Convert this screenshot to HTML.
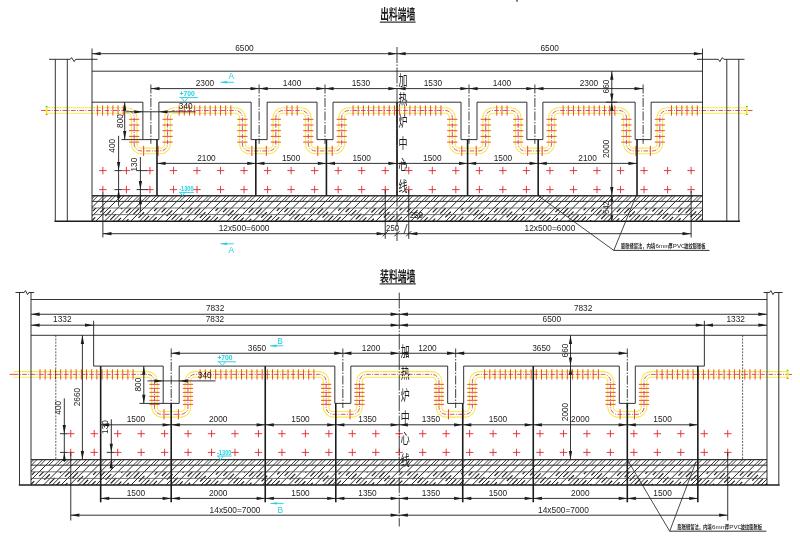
<!DOCTYPE html>
<html><head><meta charset="utf-8"><title>drawing</title>
<style>html,body{margin:0;padding:0;background:#fff;overflow:hidden}svg{display:block;will-change:transform;font-family:'Liberation Sans', sans-serif}</style>
</head><body>
<svg width="800" height="547" viewBox="0 0 800 547">
<rect width="800" height="547" fill="#fff"/>
<filter id="idf" x="0" y="0" width="800" height="547" filterUnits="userSpaceOnUse" color-interpolation-filters="sRGB"><feColorMatrix type="matrix" values="1 0 0 0 0 0 1 0 0 0 0 0 1 0 0 0 0 0 1 0"/></filter>
<g filter="url(#idf)">
<path d="M45.8 110.5L127.18 110.5A7.0 7.0 0 0 1 134.18 117.5L134.18 143.9A7.0 7.0 0 0 0 141.18 150.9L160.58 150.9A7.0 7.0 0 0 0 167.58 143.9L167.58 117.5A7.0 7.0 0 0 1 174.58 110.5L235.41 110.5A7.0 7.0 0 0 1 242.41 117.5L242.41 143.9A7.0 7.0 0 0 0 249.41 150.9L268.81 150.9A7.0 7.0 0 0 0 275.81 143.9L275.81 117.5A7.0 7.0 0 0 1 282.81 110.5L301.3 110.5A7.0 7.0 0 0 1 308.3 117.5L308.3 143.9A7.0 7.0 0 0 0 315.3 150.9L334.7 150.9A7.0 7.0 0 0 0 341.7 143.9L341.7 117.5A7.0 7.0 0 0 1 348.7 110.5L445.3 110.5A7.0 7.0 0 0 1 452.3 117.5L452.3 143.9A7.0 7.0 0 0 0 459.3 150.9L478.7 150.9A7.0 7.0 0 0 0 485.7 143.9L485.7 117.5A7.0 7.0 0 0 1 492.7 110.5L511.19 110.5A7.0 7.0 0 0 1 518.19 117.5L518.19 143.9A7.0 7.0 0 0 0 525.19 150.9L544.59 150.9A7.0 7.0 0 0 0 551.59 143.9L551.59 117.5A7.0 7.0 0 0 1 558.59 110.5L619.42 110.5A7.0 7.0 0 0 1 626.42 117.5L626.42 143.9A7.0 7.0 0 0 0 633.42 150.9L652.82 150.9A7.0 7.0 0 0 0 659.82 143.9L659.82 117.5A7.0 7.0 0 0 1 666.82 110.5L747.6 110.5" fill="none" stroke="#f3ec45" stroke-width="6.7"/>
<path d="M45.8 110.5L127.18 110.5A7.0 7.0 0 0 1 134.18 117.5L134.18 143.9A7.0 7.0 0 0 0 141.18 150.9L160.58 150.9A7.0 7.0 0 0 0 167.58 143.9L167.58 117.5A7.0 7.0 0 0 1 174.58 110.5L235.41 110.5A7.0 7.0 0 0 1 242.41 117.5L242.41 143.9A7.0 7.0 0 0 0 249.41 150.9L268.81 150.9A7.0 7.0 0 0 0 275.81 143.9L275.81 117.5A7.0 7.0 0 0 1 282.81 110.5L301.3 110.5A7.0 7.0 0 0 1 308.3 117.5L308.3 143.9A7.0 7.0 0 0 0 315.3 150.9L334.7 150.9A7.0 7.0 0 0 0 341.7 143.9L341.7 117.5A7.0 7.0 0 0 1 348.7 110.5L445.3 110.5A7.0 7.0 0 0 1 452.3 117.5L452.3 143.9A7.0 7.0 0 0 0 459.3 150.9L478.7 150.9A7.0 7.0 0 0 0 485.7 143.9L485.7 117.5A7.0 7.0 0 0 1 492.7 110.5L511.19 110.5A7.0 7.0 0 0 1 518.19 117.5L518.19 143.9A7.0 7.0 0 0 0 525.19 150.9L544.59 150.9A7.0 7.0 0 0 0 551.59 143.9L551.59 117.5A7.0 7.0 0 0 1 558.59 110.5L619.42 110.5A7.0 7.0 0 0 1 626.42 117.5L626.42 143.9A7.0 7.0 0 0 0 633.42 150.9L652.82 150.9A7.0 7.0 0 0 0 659.82 143.9L659.82 117.5A7.0 7.0 0 0 1 666.82 110.5L747.6 110.5" fill="none" stroke="#fff" stroke-width="4.5"/>
<line x1="139.28" y1="119.3" x2="129.08" y2="119.3" stroke="#e8452c" stroke-width="0.95"/>
<line x1="139.28" y1="125" x2="129.08" y2="125" stroke="#e8452c" stroke-width="0.95"/>
<line x1="139.28" y1="130.7" x2="129.08" y2="130.7" stroke="#e8452c" stroke-width="0.95"/>
<line x1="139.28" y1="136.4" x2="129.08" y2="136.4" stroke="#e8452c" stroke-width="0.95"/>
<line x1="139.28" y1="142.1" x2="129.08" y2="142.1" stroke="#e8452c" stroke-width="0.95"/>
<line x1="143.63" y1="145.8" x2="143.63" y2="156" stroke="#e8452c" stroke-width="0.95"/>
<line x1="158.13" y1="145.8" x2="158.13" y2="156" stroke="#e8452c" stroke-width="0.95"/>
<line x1="162.48" y1="142.1" x2="172.68" y2="142.1" stroke="#e8452c" stroke-width="0.95"/>
<line x1="162.48" y1="136.4" x2="172.68" y2="136.4" stroke="#e8452c" stroke-width="0.95"/>
<line x1="162.48" y1="130.7" x2="172.68" y2="130.7" stroke="#e8452c" stroke-width="0.95"/>
<line x1="162.48" y1="125" x2="172.68" y2="125" stroke="#e8452c" stroke-width="0.95"/>
<line x1="162.48" y1="119.3" x2="172.68" y2="119.3" stroke="#e8452c" stroke-width="0.95"/>
<line x1="179.15" y1="105.4" x2="179.15" y2="115.6" stroke="#e8452c" stroke-width="0.95"/>
<line x1="184.32" y1="105.4" x2="184.32" y2="115.6" stroke="#e8452c" stroke-width="0.95"/>
<line x1="189.49" y1="105.4" x2="189.49" y2="115.6" stroke="#e8452c" stroke-width="0.95"/>
<line x1="194.66" y1="105.4" x2="194.66" y2="115.6" stroke="#e8452c" stroke-width="0.95"/>
<line x1="199.83" y1="105.4" x2="199.83" y2="115.6" stroke="#e8452c" stroke-width="0.95"/>
<line x1="205" y1="105.4" x2="205" y2="115.6" stroke="#e8452c" stroke-width="0.95"/>
<line x1="210.17" y1="105.4" x2="210.17" y2="115.6" stroke="#e8452c" stroke-width="0.95"/>
<line x1="215.34" y1="105.4" x2="215.34" y2="115.6" stroke="#e8452c" stroke-width="0.95"/>
<line x1="220.51" y1="105.4" x2="220.51" y2="115.6" stroke="#e8452c" stroke-width="0.95"/>
<line x1="225.68" y1="105.4" x2="225.68" y2="115.6" stroke="#e8452c" stroke-width="0.95"/>
<line x1="230.85" y1="105.4" x2="230.85" y2="115.6" stroke="#e8452c" stroke-width="0.95"/>
<line x1="247.51" y1="119.3" x2="237.31" y2="119.3" stroke="#e8452c" stroke-width="0.95"/>
<line x1="247.51" y1="125" x2="237.31" y2="125" stroke="#e8452c" stroke-width="0.95"/>
<line x1="247.51" y1="130.7" x2="237.31" y2="130.7" stroke="#e8452c" stroke-width="0.95"/>
<line x1="247.51" y1="136.4" x2="237.31" y2="136.4" stroke="#e8452c" stroke-width="0.95"/>
<line x1="247.51" y1="142.1" x2="237.31" y2="142.1" stroke="#e8452c" stroke-width="0.95"/>
<line x1="251.86" y1="145.8" x2="251.86" y2="156" stroke="#e8452c" stroke-width="0.95"/>
<line x1="266.36" y1="145.8" x2="266.36" y2="156" stroke="#e8452c" stroke-width="0.95"/>
<line x1="270.71" y1="142.1" x2="280.91" y2="142.1" stroke="#e8452c" stroke-width="0.95"/>
<line x1="270.71" y1="136.4" x2="280.91" y2="136.4" stroke="#e8452c" stroke-width="0.95"/>
<line x1="270.71" y1="130.7" x2="280.91" y2="130.7" stroke="#e8452c" stroke-width="0.95"/>
<line x1="270.71" y1="125" x2="280.91" y2="125" stroke="#e8452c" stroke-width="0.95"/>
<line x1="270.71" y1="119.3" x2="280.91" y2="119.3" stroke="#e8452c" stroke-width="0.95"/>
<line x1="286.89" y1="105.4" x2="286.89" y2="115.6" stroke="#e8452c" stroke-width="0.95"/>
<line x1="292.06" y1="105.4" x2="292.06" y2="115.6" stroke="#e8452c" stroke-width="0.95"/>
<line x1="297.23" y1="105.4" x2="297.23" y2="115.6" stroke="#e8452c" stroke-width="0.95"/>
<line x1="313.4" y1="119.3" x2="303.2" y2="119.3" stroke="#e8452c" stroke-width="0.95"/>
<line x1="313.4" y1="125" x2="303.2" y2="125" stroke="#e8452c" stroke-width="0.95"/>
<line x1="313.4" y1="130.7" x2="303.2" y2="130.7" stroke="#e8452c" stroke-width="0.95"/>
<line x1="313.4" y1="136.4" x2="303.2" y2="136.4" stroke="#e8452c" stroke-width="0.95"/>
<line x1="313.4" y1="142.1" x2="303.2" y2="142.1" stroke="#e8452c" stroke-width="0.95"/>
<line x1="317.75" y1="145.8" x2="317.75" y2="156" stroke="#e8452c" stroke-width="0.95"/>
<line x1="332.25" y1="145.8" x2="332.25" y2="156" stroke="#e8452c" stroke-width="0.95"/>
<line x1="336.6" y1="142.1" x2="346.8" y2="142.1" stroke="#e8452c" stroke-width="0.95"/>
<line x1="336.6" y1="136.4" x2="346.8" y2="136.4" stroke="#e8452c" stroke-width="0.95"/>
<line x1="336.6" y1="130.7" x2="346.8" y2="130.7" stroke="#e8452c" stroke-width="0.95"/>
<line x1="336.6" y1="125" x2="346.8" y2="125" stroke="#e8452c" stroke-width="0.95"/>
<line x1="336.6" y1="119.3" x2="346.8" y2="119.3" stroke="#e8452c" stroke-width="0.95"/>
<line x1="353.06" y1="105.4" x2="353.06" y2="115.6" stroke="#e8452c" stroke-width="0.95"/>
<line x1="358.23" y1="105.4" x2="358.23" y2="115.6" stroke="#e8452c" stroke-width="0.95"/>
<line x1="363.39" y1="105.4" x2="363.39" y2="115.6" stroke="#e8452c" stroke-width="0.95"/>
<line x1="368.56" y1="105.4" x2="368.56" y2="115.6" stroke="#e8452c" stroke-width="0.95"/>
<line x1="373.74" y1="105.4" x2="373.74" y2="115.6" stroke="#e8452c" stroke-width="0.95"/>
<line x1="378.9" y1="105.4" x2="378.9" y2="115.6" stroke="#e8452c" stroke-width="0.95"/>
<line x1="384.07" y1="105.4" x2="384.07" y2="115.6" stroke="#e8452c" stroke-width="0.95"/>
<line x1="389.25" y1="105.4" x2="389.25" y2="115.6" stroke="#e8452c" stroke-width="0.95"/>
<line x1="394.42" y1="105.4" x2="394.42" y2="115.6" stroke="#e8452c" stroke-width="0.95"/>
<line x1="399.58" y1="105.4" x2="399.58" y2="115.6" stroke="#e8452c" stroke-width="0.95"/>
<line x1="404.75" y1="105.4" x2="404.75" y2="115.6" stroke="#e8452c" stroke-width="0.95"/>
<line x1="409.93" y1="105.4" x2="409.93" y2="115.6" stroke="#e8452c" stroke-width="0.95"/>
<line x1="415.1" y1="105.4" x2="415.1" y2="115.6" stroke="#e8452c" stroke-width="0.95"/>
<line x1="420.26" y1="105.4" x2="420.26" y2="115.6" stroke="#e8452c" stroke-width="0.95"/>
<line x1="425.44" y1="105.4" x2="425.44" y2="115.6" stroke="#e8452c" stroke-width="0.95"/>
<line x1="430.61" y1="105.4" x2="430.61" y2="115.6" stroke="#e8452c" stroke-width="0.95"/>
<line x1="435.77" y1="105.4" x2="435.77" y2="115.6" stroke="#e8452c" stroke-width="0.95"/>
<line x1="440.94" y1="105.4" x2="440.94" y2="115.6" stroke="#e8452c" stroke-width="0.95"/>
<line x1="457.4" y1="119.3" x2="447.2" y2="119.3" stroke="#e8452c" stroke-width="0.95"/>
<line x1="457.4" y1="125" x2="447.2" y2="125" stroke="#e8452c" stroke-width="0.95"/>
<line x1="457.4" y1="130.7" x2="447.2" y2="130.7" stroke="#e8452c" stroke-width="0.95"/>
<line x1="457.4" y1="136.4" x2="447.2" y2="136.4" stroke="#e8452c" stroke-width="0.95"/>
<line x1="457.4" y1="142.1" x2="447.2" y2="142.1" stroke="#e8452c" stroke-width="0.95"/>
<line x1="461.75" y1="145.8" x2="461.75" y2="156" stroke="#e8452c" stroke-width="0.95"/>
<line x1="476.25" y1="145.8" x2="476.25" y2="156" stroke="#e8452c" stroke-width="0.95"/>
<line x1="480.6" y1="142.1" x2="490.8" y2="142.1" stroke="#e8452c" stroke-width="0.95"/>
<line x1="480.6" y1="136.4" x2="490.8" y2="136.4" stroke="#e8452c" stroke-width="0.95"/>
<line x1="480.6" y1="130.7" x2="490.8" y2="130.7" stroke="#e8452c" stroke-width="0.95"/>
<line x1="480.6" y1="125" x2="490.8" y2="125" stroke="#e8452c" stroke-width="0.95"/>
<line x1="480.6" y1="119.3" x2="490.8" y2="119.3" stroke="#e8452c" stroke-width="0.95"/>
<line x1="496.77" y1="105.4" x2="496.77" y2="115.6" stroke="#e8452c" stroke-width="0.95"/>
<line x1="501.94" y1="105.4" x2="501.94" y2="115.6" stroke="#e8452c" stroke-width="0.95"/>
<line x1="507.11" y1="105.4" x2="507.11" y2="115.6" stroke="#e8452c" stroke-width="0.95"/>
<line x1="523.29" y1="119.3" x2="513.09" y2="119.3" stroke="#e8452c" stroke-width="0.95"/>
<line x1="523.29" y1="125" x2="513.09" y2="125" stroke="#e8452c" stroke-width="0.95"/>
<line x1="523.29" y1="130.7" x2="513.09" y2="130.7" stroke="#e8452c" stroke-width="0.95"/>
<line x1="523.29" y1="136.4" x2="513.09" y2="136.4" stroke="#e8452c" stroke-width="0.95"/>
<line x1="523.29" y1="142.1" x2="513.09" y2="142.1" stroke="#e8452c" stroke-width="0.95"/>
<line x1="527.64" y1="145.8" x2="527.64" y2="156" stroke="#e8452c" stroke-width="0.95"/>
<line x1="542.14" y1="145.8" x2="542.14" y2="156" stroke="#e8452c" stroke-width="0.95"/>
<line x1="546.49" y1="142.1" x2="556.69" y2="142.1" stroke="#e8452c" stroke-width="0.95"/>
<line x1="546.49" y1="136.4" x2="556.69" y2="136.4" stroke="#e8452c" stroke-width="0.95"/>
<line x1="546.49" y1="130.7" x2="556.69" y2="130.7" stroke="#e8452c" stroke-width="0.95"/>
<line x1="546.49" y1="125" x2="556.69" y2="125" stroke="#e8452c" stroke-width="0.95"/>
<line x1="546.49" y1="119.3" x2="556.69" y2="119.3" stroke="#e8452c" stroke-width="0.95"/>
<line x1="563.15" y1="105.4" x2="563.15" y2="115.6" stroke="#e8452c" stroke-width="0.95"/>
<line x1="568.32" y1="105.4" x2="568.32" y2="115.6" stroke="#e8452c" stroke-width="0.95"/>
<line x1="573.49" y1="105.4" x2="573.49" y2="115.6" stroke="#e8452c" stroke-width="0.95"/>
<line x1="578.66" y1="105.4" x2="578.66" y2="115.6" stroke="#e8452c" stroke-width="0.95"/>
<line x1="583.83" y1="105.4" x2="583.83" y2="115.6" stroke="#e8452c" stroke-width="0.95"/>
<line x1="589" y1="105.4" x2="589" y2="115.6" stroke="#e8452c" stroke-width="0.95"/>
<line x1="594.17" y1="105.4" x2="594.17" y2="115.6" stroke="#e8452c" stroke-width="0.95"/>
<line x1="599.34" y1="105.4" x2="599.34" y2="115.6" stroke="#e8452c" stroke-width="0.95"/>
<line x1="604.51" y1="105.4" x2="604.51" y2="115.6" stroke="#e8452c" stroke-width="0.95"/>
<line x1="609.68" y1="105.4" x2="609.68" y2="115.6" stroke="#e8452c" stroke-width="0.95"/>
<line x1="614.85" y1="105.4" x2="614.85" y2="115.6" stroke="#e8452c" stroke-width="0.95"/>
<line x1="631.52" y1="119.3" x2="621.32" y2="119.3" stroke="#e8452c" stroke-width="0.95"/>
<line x1="631.52" y1="125" x2="621.32" y2="125" stroke="#e8452c" stroke-width="0.95"/>
<line x1="631.52" y1="130.7" x2="621.32" y2="130.7" stroke="#e8452c" stroke-width="0.95"/>
<line x1="631.52" y1="136.4" x2="621.32" y2="136.4" stroke="#e8452c" stroke-width="0.95"/>
<line x1="631.52" y1="142.1" x2="621.32" y2="142.1" stroke="#e8452c" stroke-width="0.95"/>
<line x1="635.87" y1="145.8" x2="635.87" y2="156" stroke="#e8452c" stroke-width="0.95"/>
<line x1="650.37" y1="145.8" x2="650.37" y2="156" stroke="#e8452c" stroke-width="0.95"/>
<line x1="654.72" y1="142.1" x2="664.92" y2="142.1" stroke="#e8452c" stroke-width="0.95"/>
<line x1="654.72" y1="136.4" x2="664.92" y2="136.4" stroke="#e8452c" stroke-width="0.95"/>
<line x1="654.72" y1="130.7" x2="664.92" y2="130.7" stroke="#e8452c" stroke-width="0.95"/>
<line x1="654.72" y1="125" x2="664.92" y2="125" stroke="#e8452c" stroke-width="0.95"/>
<line x1="654.72" y1="119.3" x2="664.92" y2="119.3" stroke="#e8452c" stroke-width="0.95"/>
<path d="M45.8 110.5L127.18 110.5A7.0 7.0 0 0 1 134.18 117.5L134.18 143.9A7.0 7.0 0 0 0 141.18 150.9L160.58 150.9A7.0 7.0 0 0 0 167.58 143.9L167.58 117.5A7.0 7.0 0 0 1 174.58 110.5L235.41 110.5A7.0 7.0 0 0 1 242.41 117.5L242.41 143.9A7.0 7.0 0 0 0 249.41 150.9L268.81 150.9A7.0 7.0 0 0 0 275.81 143.9L275.81 117.5A7.0 7.0 0 0 1 282.81 110.5L301.3 110.5A7.0 7.0 0 0 1 308.3 117.5L308.3 143.9A7.0 7.0 0 0 0 315.3 150.9L334.7 150.9A7.0 7.0 0 0 0 341.7 143.9L341.7 117.5A7.0 7.0 0 0 1 348.7 110.5L445.3 110.5A7.0 7.0 0 0 1 452.3 117.5L452.3 143.9A7.0 7.0 0 0 0 459.3 150.9L478.7 150.9A7.0 7.0 0 0 0 485.7 143.9L485.7 117.5A7.0 7.0 0 0 1 492.7 110.5L511.19 110.5A7.0 7.0 0 0 1 518.19 117.5L518.19 143.9A7.0 7.0 0 0 0 525.19 150.9L544.59 150.9A7.0 7.0 0 0 0 551.59 143.9L551.59 117.5A7.0 7.0 0 0 1 558.59 110.5L619.42 110.5A7.0 7.0 0 0 1 626.42 117.5L626.42 143.9A7.0 7.0 0 0 0 633.42 150.9L652.82 150.9A7.0 7.0 0 0 0 659.82 143.9L659.82 117.5A7.0 7.0 0 0 1 666.82 110.5L747.6 110.5" fill="none" stroke="#d42a35" stroke-width="0.8" stroke-dasharray="4.6 1.4 1 1.4"/>
<line x1="97.4" y1="105.4" x2="97.4" y2="115.6" stroke="#e8452c" stroke-width="0.95"/>
<line x1="102.57" y1="105.4" x2="102.57" y2="115.6" stroke="#e8452c" stroke-width="0.95"/>
<line x1="107.74" y1="105.4" x2="107.74" y2="115.6" stroke="#e8452c" stroke-width="0.95"/>
<line x1="112.91" y1="105.4" x2="112.91" y2="115.6" stroke="#e8452c" stroke-width="0.95"/>
<line x1="118.08" y1="105.4" x2="118.08" y2="115.6" stroke="#e8452c" stroke-width="0.95"/>
<line x1="123.25" y1="105.4" x2="123.25" y2="115.6" stroke="#e8452c" stroke-width="0.95"/>
<line x1="671.5" y1="105.4" x2="671.5" y2="115.6" stroke="#e8452c" stroke-width="0.95"/>
<line x1="676.67" y1="105.4" x2="676.67" y2="115.6" stroke="#e8452c" stroke-width="0.95"/>
<line x1="681.84" y1="105.4" x2="681.84" y2="115.6" stroke="#e8452c" stroke-width="0.95"/>
<line x1="687.01" y1="105.4" x2="687.01" y2="115.6" stroke="#e8452c" stroke-width="0.95"/>
<line x1="692.18" y1="105.4" x2="692.18" y2="115.6" stroke="#e8452c" stroke-width="0.95"/>
<line x1="697.35" y1="105.4" x2="697.35" y2="115.6" stroke="#e8452c" stroke-width="0.95"/>
<line x1="41" y1="110.5" x2="45.8" y2="110.5" stroke="#e3262a" stroke-width="0.8"/>
<line x1="747.6" y1="110.5" x2="752.5" y2="110.5" stroke="#e3262a" stroke-width="0.8"/>
<line x1="46.6" y1="106.9" x2="46.6" y2="114.1" stroke="#f3ec45" stroke-width="1.8"/>
<line x1="46.6" y1="105.9" x2="46.6" y2="107.1" stroke="#35c43a" stroke-width="1.6"/>
<line x1="46.6" y1="113.9" x2="46.6" y2="115.1" stroke="#c8762a" stroke-width="1.6"/>
<line x1="746.8" y1="106.9" x2="746.8" y2="114.1" stroke="#f3ec45" stroke-width="1.8"/>
<line x1="746.8" y1="105.9" x2="746.8" y2="107.1" stroke="#35c43a" stroke-width="1.6"/>
<line x1="746.8" y1="113.9" x2="746.8" y2="115.1" stroke="#c8762a" stroke-width="1.6"/>
<path d="M381.54 170.6H388.94M385.24 166.9V174.3" stroke="#e3262a" stroke-width="0.9" fill="none"/>
<path d="M381.54 189.6H388.94M385.24 185.9V193.3" stroke="#e3262a" stroke-width="0.9" fill="none"/>
<path d="M358 170.6H365.4M361.7 166.9V174.3" stroke="#e3262a" stroke-width="0.9" fill="none"/>
<path d="M358 189.6H365.4M361.7 185.9V193.3" stroke="#e3262a" stroke-width="0.9" fill="none"/>
<path d="M334.48 170.6H341.88M338.18 166.9V174.3" stroke="#e3262a" stroke-width="0.9" fill="none"/>
<path d="M334.48 189.6H341.88M338.18 185.9V193.3" stroke="#e3262a" stroke-width="0.9" fill="none"/>
<path d="M310.94 170.6H318.34M314.64 166.9V174.3" stroke="#e3262a" stroke-width="0.9" fill="none"/>
<path d="M310.94 189.6H318.34M314.64 185.9V193.3" stroke="#e3262a" stroke-width="0.9" fill="none"/>
<path d="M287.42 170.6H294.81M291.12 166.9V174.3" stroke="#e3262a" stroke-width="0.9" fill="none"/>
<path d="M287.42 189.6H294.81M291.12 185.9V193.3" stroke="#e3262a" stroke-width="0.9" fill="none"/>
<path d="M263.89 170.6H271.29M267.59 166.9V174.3" stroke="#e3262a" stroke-width="0.9" fill="none"/>
<path d="M263.89 189.6H271.29M267.59 185.9V193.3" stroke="#e3262a" stroke-width="0.9" fill="none"/>
<path d="M240.36 170.6H247.75M244.06 166.9V174.3" stroke="#e3262a" stroke-width="0.9" fill="none"/>
<path d="M240.36 189.6H247.75M244.06 185.9V193.3" stroke="#e3262a" stroke-width="0.9" fill="none"/>
<path d="M216.83 170.6H224.22M220.53 166.9V174.3" stroke="#e3262a" stroke-width="0.9" fill="none"/>
<path d="M216.83 189.6H224.22M220.53 185.9V193.3" stroke="#e3262a" stroke-width="0.9" fill="none"/>
<path d="M193.3 170.6H200.7M197 166.9V174.3" stroke="#e3262a" stroke-width="0.9" fill="none"/>
<path d="M193.3 189.6H200.7M197 185.9V193.3" stroke="#e3262a" stroke-width="0.9" fill="none"/>
<path d="M169.77 170.6H177.17M173.47 166.9V174.3" stroke="#e3262a" stroke-width="0.9" fill="none"/>
<path d="M169.77 189.6H177.17M173.47 185.9V193.3" stroke="#e3262a" stroke-width="0.9" fill="none"/>
<path d="M146.24 170.6H153.64M149.94 166.9V174.3" stroke="#e3262a" stroke-width="0.9" fill="none"/>
<path d="M146.24 189.6H153.64M149.94 185.9V193.3" stroke="#e3262a" stroke-width="0.9" fill="none"/>
<path d="M122.71 170.6H130.11M126.41 166.9V174.3" stroke="#e3262a" stroke-width="0.9" fill="none"/>
<path d="M122.71 189.6H130.11M126.41 185.9V193.3" stroke="#e3262a" stroke-width="0.9" fill="none"/>
<path d="M99.17 170.6H106.58M102.88 166.9V174.3" stroke="#e3262a" stroke-width="0.9" fill="none"/>
<path d="M99.17 189.6H106.58M102.88 185.9V193.3" stroke="#e3262a" stroke-width="0.9" fill="none"/>
<path d="M405.06 170.6H412.46M408.76 166.9V174.3" stroke="#e3262a" stroke-width="0.9" fill="none"/>
<path d="M405.06 189.6H412.46M408.76 185.9V193.3" stroke="#e3262a" stroke-width="0.9" fill="none"/>
<path d="M428.6 170.6H436M432.3 166.9V174.3" stroke="#e3262a" stroke-width="0.9" fill="none"/>
<path d="M428.6 189.6H436M432.3 185.9V193.3" stroke="#e3262a" stroke-width="0.9" fill="none"/>
<path d="M452.12 170.6H459.52M455.82 166.9V174.3" stroke="#e3262a" stroke-width="0.9" fill="none"/>
<path d="M452.12 189.6H459.52M455.82 185.9V193.3" stroke="#e3262a" stroke-width="0.9" fill="none"/>
<path d="M475.66 170.6H483.06M479.36 166.9V174.3" stroke="#e3262a" stroke-width="0.9" fill="none"/>
<path d="M475.66 189.6H483.06M479.36 185.9V193.3" stroke="#e3262a" stroke-width="0.9" fill="none"/>
<path d="M499.19 170.6H506.58M502.88 166.9V174.3" stroke="#e3262a" stroke-width="0.9" fill="none"/>
<path d="M499.19 189.6H506.58M502.88 185.9V193.3" stroke="#e3262a" stroke-width="0.9" fill="none"/>
<path d="M522.71 170.6H530.12M526.41 166.9V174.3" stroke="#e3262a" stroke-width="0.9" fill="none"/>
<path d="M522.71 189.6H530.12M526.41 185.9V193.3" stroke="#e3262a" stroke-width="0.9" fill="none"/>
<path d="M546.24 170.6H553.64M549.94 166.9V174.3" stroke="#e3262a" stroke-width="0.9" fill="none"/>
<path d="M546.24 189.6H553.64M549.94 185.9V193.3" stroke="#e3262a" stroke-width="0.9" fill="none"/>
<path d="M569.77 170.6H577.18M573.48 166.9V174.3" stroke="#e3262a" stroke-width="0.9" fill="none"/>
<path d="M569.77 189.6H577.18M573.48 185.9V193.3" stroke="#e3262a" stroke-width="0.9" fill="none"/>
<path d="M593.3 170.6H600.71M597 166.9V174.3" stroke="#e3262a" stroke-width="0.9" fill="none"/>
<path d="M593.3 189.6H600.71M597 185.9V193.3" stroke="#e3262a" stroke-width="0.9" fill="none"/>
<path d="M616.83 170.6H624.24M620.53 166.9V174.3" stroke="#e3262a" stroke-width="0.9" fill="none"/>
<path d="M616.83 189.6H624.24M620.53 185.9V193.3" stroke="#e3262a" stroke-width="0.9" fill="none"/>
<path d="M640.36 170.6H647.76M644.06 166.9V174.3" stroke="#e3262a" stroke-width="0.9" fill="none"/>
<path d="M640.36 189.6H647.76M644.06 185.9V193.3" stroke="#e3262a" stroke-width="0.9" fill="none"/>
<path d="M663.89 170.6H671.3M667.6 166.9V174.3" stroke="#e3262a" stroke-width="0.9" fill="none"/>
<path d="M663.89 189.6H671.3M667.6 185.9V193.3" stroke="#e3262a" stroke-width="0.9" fill="none"/>
<path d="M687.42 170.6H694.83M691.12 166.9V174.3" stroke="#e3262a" stroke-width="0.9" fill="none"/>
<path d="M687.42 189.6H694.83M691.12 185.9V193.3" stroke="#e3262a" stroke-width="0.9" fill="none"/>
<clipPath id="hta"><rect x="92" y="195.7" width="610.5" height="5.7"/></clipPath>
<clipPath id="htb"><rect x="92" y="201.4" width="610.5" height="19.8"/></clipPath>
<clipPath id="htc"><rect x="92" y="208" width="610.5" height="13.2"/></clipPath>
<path d="M52 221.2L77.5 195.7M55.1 221.2L80.6 195.7M60.75 221.2L86.25 195.7M63.85 221.2L89.35 195.7M69.5 221.2L95 195.7M72.6 221.2L98.1 195.7M78.25 221.2L103.75 195.7M81.35 221.2L106.85 195.7M87 221.2L112.5 195.7M90.1 221.2L115.6 195.7M95.75 221.2L121.25 195.7M98.85 221.2L124.35 195.7M104.5 221.2L130 195.7M107.6 221.2L133.1 195.7M113.25 221.2L138.75 195.7M116.35 221.2L141.85 195.7M122 221.2L147.5 195.7M125.1 221.2L150.6 195.7M130.75 221.2L156.25 195.7M133.85 221.2L159.35 195.7M139.5 221.2L165 195.7M142.6 221.2L168.1 195.7M148.25 221.2L173.75 195.7M151.35 221.2L176.85 195.7M157 221.2L182.5 195.7M160.1 221.2L185.6 195.7M165.75 221.2L191.25 195.7M168.85 221.2L194.35 195.7M174.5 221.2L200 195.7M177.6 221.2L203.1 195.7M183.25 221.2L208.75 195.7M186.35 221.2L211.85 195.7M192 221.2L217.5 195.7M195.1 221.2L220.6 195.7M200.75 221.2L226.25 195.7M203.85 221.2L229.35 195.7M209.5 221.2L235 195.7M212.6 221.2L238.1 195.7M218.25 221.2L243.75 195.7M221.35 221.2L246.85 195.7M227 221.2L252.5 195.7M230.1 221.2L255.6 195.7M235.75 221.2L261.25 195.7M238.85 221.2L264.35 195.7M244.5 221.2L270 195.7M247.6 221.2L273.1 195.7M253.25 221.2L278.75 195.7M256.35 221.2L281.85 195.7M262 221.2L287.5 195.7M265.1 221.2L290.6 195.7M270.75 221.2L296.25 195.7M273.85 221.2L299.35 195.7M279.5 221.2L305 195.7M282.6 221.2L308.1 195.7M288.25 221.2L313.75 195.7M291.35 221.2L316.85 195.7M297 221.2L322.5 195.7M300.1 221.2L325.6 195.7M305.75 221.2L331.25 195.7M308.85 221.2L334.35 195.7M314.5 221.2L340 195.7M317.6 221.2L343.1 195.7M323.25 221.2L348.75 195.7M326.35 221.2L351.85 195.7M332 221.2L357.5 195.7M335.1 221.2L360.6 195.7M340.75 221.2L366.25 195.7M343.85 221.2L369.35 195.7M349.5 221.2L375 195.7M352.6 221.2L378.1 195.7M358.25 221.2L383.75 195.7M361.35 221.2L386.85 195.7M367 221.2L392.5 195.7M370.1 221.2L395.6 195.7M375.75 221.2L401.25 195.7M378.85 221.2L404.35 195.7M384.5 221.2L410 195.7M387.6 221.2L413.1 195.7M393.25 221.2L418.75 195.7M396.35 221.2L421.85 195.7M402 221.2L427.5 195.7M405.1 221.2L430.6 195.7M410.75 221.2L436.25 195.7M413.85 221.2L439.35 195.7M419.5 221.2L445 195.7M422.6 221.2L448.1 195.7M428.25 221.2L453.75 195.7M431.35 221.2L456.85 195.7M437 221.2L462.5 195.7M440.1 221.2L465.6 195.7M445.75 221.2L471.25 195.7M448.85 221.2L474.35 195.7M454.5 221.2L480 195.7M457.6 221.2L483.1 195.7M463.25 221.2L488.75 195.7M466.35 221.2L491.85 195.7M472 221.2L497.5 195.7M475.1 221.2L500.6 195.7M480.75 221.2L506.25 195.7M483.85 221.2L509.35 195.7M489.5 221.2L515 195.7M492.6 221.2L518.1 195.7M498.25 221.2L523.75 195.7M501.35 221.2L526.85 195.7M507 221.2L532.5 195.7M510.1 221.2L535.6 195.7M515.75 221.2L541.25 195.7M518.85 221.2L544.35 195.7M524.5 221.2L550 195.7M527.6 221.2L553.1 195.7M533.25 221.2L558.75 195.7M536.35 221.2L561.85 195.7M542 221.2L567.5 195.7M545.1 221.2L570.6 195.7M550.75 221.2L576.25 195.7M553.85 221.2L579.35 195.7M559.5 221.2L585 195.7M562.6 221.2L588.1 195.7M568.25 221.2L593.75 195.7M571.35 221.2L596.85 195.7M577 221.2L602.5 195.7M580.1 221.2L605.6 195.7M585.75 221.2L611.25 195.7M588.85 221.2L614.35 195.7M594.5 221.2L620 195.7M597.6 221.2L623.1 195.7M603.25 221.2L628.75 195.7M606.35 221.2L631.85 195.7M612 221.2L637.5 195.7M615.1 221.2L640.6 195.7M620.75 221.2L646.25 195.7M623.85 221.2L649.35 195.7M629.5 221.2L655 195.7M632.6 221.2L658.1 195.7M638.25 221.2L663.75 195.7M641.35 221.2L666.85 195.7M647 221.2L672.5 195.7M650.1 221.2L675.6 195.7M655.75 221.2L681.25 195.7M658.85 221.2L684.35 195.7M664.5 221.2L690 195.7M667.6 221.2L693.1 195.7M673.25 221.2L698.75 195.7M676.35 221.2L701.85 195.7M682 221.2L707.5 195.7M685.1 221.2L710.6 195.7M690.75 221.2L716.25 195.7M693.85 221.2L719.35 195.7M699.5 221.2L725 195.7M702.6 221.2L728.1 195.7" stroke="#1c1c1c" stroke-width="0.85" fill="none" clip-path="url(#hta)"/>
<path d="M52 221.2L77.5 195.7M60.75 221.2L86.25 195.7M69.5 221.2L95 195.7M78.25 221.2L103.75 195.7M87 221.2L112.5 195.7M95.75 221.2L121.25 195.7M104.5 221.2L130 195.7M113.25 221.2L138.75 195.7M122 221.2L147.5 195.7M130.75 221.2L156.25 195.7M139.5 221.2L165 195.7M148.25 221.2L173.75 195.7M157 221.2L182.5 195.7M165.75 221.2L191.25 195.7M174.5 221.2L200 195.7M183.25 221.2L208.75 195.7M192 221.2L217.5 195.7M200.75 221.2L226.25 195.7M209.5 221.2L235 195.7M218.25 221.2L243.75 195.7M227 221.2L252.5 195.7M235.75 221.2L261.25 195.7M244.5 221.2L270 195.7M253.25 221.2L278.75 195.7M262 221.2L287.5 195.7M270.75 221.2L296.25 195.7M279.5 221.2L305 195.7M288.25 221.2L313.75 195.7M297 221.2L322.5 195.7M305.75 221.2L331.25 195.7M314.5 221.2L340 195.7M323.25 221.2L348.75 195.7M332 221.2L357.5 195.7M340.75 221.2L366.25 195.7M349.5 221.2L375 195.7M358.25 221.2L383.75 195.7M367 221.2L392.5 195.7M375.75 221.2L401.25 195.7M384.5 221.2L410 195.7M393.25 221.2L418.75 195.7M402 221.2L427.5 195.7M410.75 221.2L436.25 195.7M419.5 221.2L445 195.7M428.25 221.2L453.75 195.7M437 221.2L462.5 195.7M445.75 221.2L471.25 195.7M454.5 221.2L480 195.7M463.25 221.2L488.75 195.7M472 221.2L497.5 195.7M480.75 221.2L506.25 195.7M489.5 221.2L515 195.7M498.25 221.2L523.75 195.7M507 221.2L532.5 195.7M515.75 221.2L541.25 195.7M524.5 221.2L550 195.7M533.25 221.2L558.75 195.7M542 221.2L567.5 195.7M550.75 221.2L576.25 195.7M559.5 221.2L585 195.7M568.25 221.2L593.75 195.7M577 221.2L602.5 195.7M585.75 221.2L611.25 195.7M594.5 221.2L620 195.7M603.25 221.2L628.75 195.7M612 221.2L637.5 195.7M620.75 221.2L646.25 195.7M629.5 221.2L655 195.7M638.25 221.2L663.75 195.7M647 221.2L672.5 195.7M655.75 221.2L681.25 195.7M664.5 221.2L690 195.7M673.25 221.2L698.75 195.7M682 221.2L707.5 195.7M690.75 221.2L716.25 195.7M699.5 221.2L725 195.7" stroke="#1c1c1c" stroke-width="0.95" fill="none" clip-path="url(#htb)"/>
<path d="M56.4 221.2L81.9 195.7M61.45 224.9L90.65 195.7M66.5 228.6L99.4 195.7M71.55 232.3L108.15 195.7M89.6 223L116.9 195.7M94.65 226.7L125.65 195.7M99.7 230.4L134.4 195.7M104.75 234.1L143.15 195.7M122.8 224.8L151.9 195.7M127.85 228.5L160.65 195.7M132.9 232.2L169.4 195.7M150.95 222.9L178.15 195.7M156 226.6L186.9 195.7M161.05 230.3L195.65 195.7M166.1 234L204.4 195.7M184.15 224.7L213.15 195.7M189.2 228.4L221.9 195.7M194.25 232.1L230.65 195.7M212.3 222.8L239.4 195.7M217.35 226.5L248.15 195.7M222.4 230.2L256.9 195.7M227.45 233.9L265.65 195.7M245.5 224.6L274.4 195.7M250.55 228.3L283.15 195.7M255.6 232L291.9 195.7M273.65 222.7L300.65 195.7M278.7 226.4L309.4 195.7M283.75 230.1L318.15 195.7M288.8 233.8L326.9 195.7M306.85 224.5L335.65 195.7M311.9 228.2L344.4 195.7M316.95 231.9L353.15 195.7M335 222.6L361.9 195.7M340.05 226.3L370.65 195.7M345.1 230L379.4 195.7M350.15 233.7L388.15 195.7M368.2 224.4L396.9 195.7M373.25 228.1L405.65 195.7M378.3 231.8L414.4 195.7M396.35 222.5L423.15 195.7M401.4 226.2L431.9 195.7M406.45 229.9L440.65 195.7M411.5 233.6L449.4 195.7M429.55 224.3L458.15 195.7M434.6 228L466.9 195.7M439.65 231.7L475.65 195.7M457.7 222.4L484.4 195.7M462.75 226.1L493.15 195.7M467.8 229.8L501.9 195.7M472.85 233.5L510.65 195.7M490.9 224.2L519.4 195.7M495.95 227.9L528.15 195.7M501 231.6L536.9 195.7M519.05 222.3L545.65 195.7M524.1 226L554.4 195.7M529.15 229.7L563.15 195.7M534.2 233.4L571.9 195.7M552.25 224.1L580.65 195.7M557.3 227.8L589.4 195.7M562.35 231.5L598.15 195.7M580.4 222.2L606.9 195.7M585.45 225.9L615.65 195.7M590.5 229.6L624.4 195.7M595.55 233.3L633.15 195.7M613.6 224L641.9 195.7M618.65 227.7L650.65 195.7M623.7 231.4L659.4 195.7M641.75 222.1L668.15 195.7M646.8 225.8L676.9 195.7M651.85 229.5L685.65 195.7M656.9 233.2L694.4 195.7M674.95 223.9L703.15 195.7M680 227.6L711.9 195.7M685.05 231.3L720.65 195.7M703.1 222L729.4 195.7" stroke="#1c1c1c" stroke-width="1.15" fill="none" stroke-dasharray="8 7" clip-path="url(#htc)"/>
<line x1="92" y1="201.4" x2="702.5" y2="201.4" stroke="#1c1c1c" stroke-width="0.9"/>
<line x1="92" y1="208" x2="702.5" y2="208" stroke="#555" stroke-width="0.8"/>
<line x1="92" y1="214.6" x2="702.5" y2="214.6" stroke="#555" stroke-width="0.8"/>
<line x1="92" y1="195.7" x2="702.5" y2="195.7" stroke="#333" stroke-width="1.4"/>
<line x1="55.3" y1="59.3" x2="55.3" y2="221.2" stroke="#1c1c1c" stroke-width="0.9"/>
<line x1="67.3" y1="59.3" x2="67.3" y2="221.2" stroke="#1c1c1c" stroke-width="0.9"/>
<line x1="726.8" y1="59.3" x2="726.8" y2="221.2" stroke="#1c1c1c" stroke-width="0.9"/>
<line x1="738.8" y1="59.3" x2="738.8" y2="221.2" stroke="#1c1c1c" stroke-width="0.9"/>
<line x1="92" y1="48.5" x2="92" y2="221.2" stroke="#1c1c1c" stroke-width="0.9"/>
<line x1="702.5" y1="48.5" x2="702.5" y2="221.2" stroke="#1c1c1c" stroke-width="0.9"/>
<polyline points="49,59.3 70.2,59.3 71.6,57.6 74.2,61.6 75.6,59.3 97.5,59.3" fill="none" stroke="#1c1c1c" stroke-width="0.9"/>
<polyline points="697,59.3 718.4,59.3 719.8,61.6 722.4,57.6 723.8,59.3 744.5,59.3" fill="none" stroke="#1c1c1c" stroke-width="0.9"/>
<line x1="54.5" y1="221.2" x2="740" y2="221.2" stroke="#1c1c1c" stroke-width="1.6"/>
<line x1="92" y1="71.2" x2="702.5" y2="71.2" stroke="#1c1c1c" stroke-width="0.9"/>
<polyline points="92,102.2 142.88,102.2 142.88,139.6 158.88,139.6 158.88,102.2 251.11,102.2 251.11,139.6 267.11,139.6 267.11,102.2 317,102.2 317,139.6 333,139.6 333,102.2 461,102.2 461,139.6 477,139.6 477,102.2 526.89,102.2 526.89,139.6 542.89,139.6 542.89,102.2 635.12,102.2 635.12,139.6 651.12,139.6 651.12,102.2 702.5,102.2" fill="none" stroke="#1c1c1c" stroke-width="0.9"/>
<line x1="150.88" y1="84.5" x2="150.88" y2="143.8" stroke="#1c1c1c" stroke-width="0.85" stroke-dasharray="9 1.5 1.5 1.5"/>
<line x1="259.11" y1="84.5" x2="259.11" y2="143.8" stroke="#1c1c1c" stroke-width="0.85" stroke-dasharray="9 1.5 1.5 1.5"/>
<line x1="325" y1="84.5" x2="325" y2="143.8" stroke="#1c1c1c" stroke-width="0.85" stroke-dasharray="9 1.5 1.5 1.5"/>
<line x1="469" y1="84.5" x2="469" y2="143.8" stroke="#1c1c1c" stroke-width="0.85" stroke-dasharray="9 1.5 1.5 1.5"/>
<line x1="534.89" y1="84.5" x2="534.89" y2="143.8" stroke="#1c1c1c" stroke-width="0.85" stroke-dasharray="9 1.5 1.5 1.5"/>
<line x1="643.12" y1="84.5" x2="643.12" y2="143.8" stroke="#1c1c1c" stroke-width="0.85" stroke-dasharray="9 1.5 1.5 1.5"/>
<line x1="156.99" y1="139.6" x2="156.99" y2="195.7" stroke="#1c1c1c" stroke-width="1.6"/>
<line x1="255.82" y1="139.6" x2="255.82" y2="195.7" stroke="#1c1c1c" stroke-width="1.6"/>
<line x1="326.41" y1="139.6" x2="326.41" y2="195.7" stroke="#1c1c1c" stroke-width="1.6"/>
<line x1="467.59" y1="139.6" x2="467.59" y2="195.7" stroke="#1c1c1c" stroke-width="1.6"/>
<line x1="538.18" y1="139.6" x2="538.18" y2="195.7" stroke="#1c1c1c" stroke-width="1.6"/>
<line x1="637.01" y1="139.6" x2="637.01" y2="195.7" stroke="#1c1c1c" stroke-width="1.6"/>
<line x1="397" y1="47" x2="397" y2="241" stroke="#1c1c1c" stroke-width="0.85" stroke-dasharray="16 1.5 1.5 1.5"/>
<line x1="397" y1="102.2" x2="397" y2="195.7" stroke="#1c1c1c" stroke-width="1.6"/>
<line x1="92" y1="53.7" x2="702.5" y2="53.7" stroke="#1c1c1c" stroke-width="0.9"/>
<polygon points="92,53.7 100.6,52.05 100.6,55.35" fill="#1c1c1c"/>
<polygon points="397,53.7 388.4,52.05 388.4,55.35" fill="#1c1c1c"/>
<polygon points="397,53.7 405.6,52.05 405.6,55.35" fill="#1c1c1c"/>
<polygon points="702.5,53.7 693.9,52.05 693.9,55.35" fill="#1c1c1c"/>
<text x="244.5" y="51.1" font-size="9.4" text-anchor="middle" fill="#1c1c1c" font-weight="normal" textLength="18.48" lengthAdjust="spacingAndGlyphs">6500</text>
<text x="549.75" y="51.1" font-size="9.4" text-anchor="middle" fill="#1c1c1c" font-weight="normal" textLength="18.48" lengthAdjust="spacingAndGlyphs">6500</text>
<line x1="150.88" y1="88.6" x2="643.12" y2="88.6" stroke="#1c1c1c" stroke-width="0.9"/>
<polygon points="150.88,88.6 159.48,86.95 159.48,90.25" fill="#1c1c1c"/>
<polygon points="259.11,88.6 250.51,86.95 250.51,90.25" fill="#1c1c1c"/>
<polygon points="259.11,88.6 267.71,86.95 267.71,90.25" fill="#1c1c1c"/>
<polygon points="325,88.6 316.4,86.95 316.4,90.25" fill="#1c1c1c"/>
<polygon points="325,88.6 333.6,86.95 333.6,90.25" fill="#1c1c1c"/>
<polygon points="397,88.6 388.4,86.95 388.4,90.25" fill="#1c1c1c"/>
<polygon points="397,88.6 405.6,86.95 405.6,90.25" fill="#1c1c1c"/>
<polygon points="469,88.6 460.4,86.95 460.4,90.25" fill="#1c1c1c"/>
<polygon points="469,88.6 477.6,86.95 477.6,90.25" fill="#1c1c1c"/>
<polygon points="534.89,88.6 526.29,86.95 526.29,90.25" fill="#1c1c1c"/>
<polygon points="534.89,88.6 543.49,86.95 543.49,90.25" fill="#1c1c1c"/>
<polygon points="643.12,88.6 634.52,86.95 634.52,90.25" fill="#1c1c1c"/>
<text x="205" y="85.9" font-size="9.4" text-anchor="middle" fill="#1c1c1c" font-weight="normal" textLength="18.48" lengthAdjust="spacingAndGlyphs">2300</text>
<text x="292.06" y="85.9" font-size="9.4" text-anchor="middle" fill="#1c1c1c" font-weight="normal" textLength="18.48" lengthAdjust="spacingAndGlyphs">1400</text>
<text x="361" y="85.9" font-size="9.4" text-anchor="middle" fill="#1c1c1c" font-weight="normal" textLength="18.48" lengthAdjust="spacingAndGlyphs">1530</text>
<text x="433" y="85.9" font-size="9.4" text-anchor="middle" fill="#1c1c1c" font-weight="normal" textLength="18.48" lengthAdjust="spacingAndGlyphs">1530</text>
<text x="501.94" y="85.9" font-size="9.4" text-anchor="middle" fill="#1c1c1c" font-weight="normal" textLength="18.48" lengthAdjust="spacingAndGlyphs">1400</text>
<text x="589" y="85.9" font-size="9.4" text-anchor="middle" fill="#1c1c1c" font-weight="normal" textLength="18.48" lengthAdjust="spacingAndGlyphs">2300</text>
<line x1="156.99" y1="163.4" x2="637.01" y2="163.4" stroke="#1c1c1c" stroke-width="0.9"/>
<polygon points="156.99,163.4 165.59,161.75 165.59,165.05" fill="#1c1c1c"/>
<polygon points="255.82,163.4 247.22,161.75 247.22,165.05" fill="#1c1c1c"/>
<polygon points="255.82,163.4 264.42,161.75 264.42,165.05" fill="#1c1c1c"/>
<polygon points="326.41,163.4 317.81,161.75 317.81,165.05" fill="#1c1c1c"/>
<polygon points="326.41,163.4 335.01,161.75 335.01,165.05" fill="#1c1c1c"/>
<polygon points="397,163.4 388.4,161.75 388.4,165.05" fill="#1c1c1c"/>
<polygon points="397,163.4 405.6,161.75 405.6,165.05" fill="#1c1c1c"/>
<polygon points="467.59,163.4 458.99,161.75 458.99,165.05" fill="#1c1c1c"/>
<polygon points="467.59,163.4 476.19,161.75 476.19,165.05" fill="#1c1c1c"/>
<polygon points="538.18,163.4 529.58,161.75 529.58,165.05" fill="#1c1c1c"/>
<polygon points="538.18,163.4 546.78,161.75 546.78,165.05" fill="#1c1c1c"/>
<polygon points="637.01,163.4 628.41,161.75 628.41,165.05" fill="#1c1c1c"/>
<text x="206.41" y="160.7" font-size="9.4" text-anchor="middle" fill="#1c1c1c" font-weight="normal" textLength="18.48" lengthAdjust="spacingAndGlyphs">2100</text>
<text x="291.12" y="160.7" font-size="9.4" text-anchor="middle" fill="#1c1c1c" font-weight="normal" textLength="18.48" lengthAdjust="spacingAndGlyphs">1500</text>
<text x="361.7" y="160.7" font-size="9.4" text-anchor="middle" fill="#1c1c1c" font-weight="normal" textLength="18.48" lengthAdjust="spacingAndGlyphs">1500</text>
<text x="432.3" y="160.7" font-size="9.4" text-anchor="middle" fill="#1c1c1c" font-weight="normal" textLength="18.48" lengthAdjust="spacingAndGlyphs">1500</text>
<text x="502.89" y="160.7" font-size="9.4" text-anchor="middle" fill="#1c1c1c" font-weight="normal" textLength="18.48" lengthAdjust="spacingAndGlyphs">1500</text>
<text x="587.59" y="160.7" font-size="9.4" text-anchor="middle" fill="#1c1c1c" font-weight="normal" textLength="18.48" lengthAdjust="spacingAndGlyphs">2100</text>
<line x1="102.88" y1="233.7" x2="691.12" y2="233.7" stroke="#1c1c1c" stroke-width="0.9"/>
<line x1="102.88" y1="192.5" x2="102.88" y2="237.5" stroke="#1c1c1c" stroke-width="0.9"/>
<line x1="691.12" y1="191" x2="691.12" y2="237.5" stroke="#1c1c1c" stroke-width="0.9"/>
<line x1="385.24" y1="190" x2="385.24" y2="238.8" stroke="#1c1c1c" stroke-width="0.9"/>
<line x1="408.76" y1="190" x2="408.76" y2="238.8" stroke="#1c1c1c" stroke-width="0.9"/>
<polygon points="102.88,233.7 111.47,232.05 111.47,235.35" fill="#1c1c1c"/>
<polygon points="385.24,233.7 376.63,232.05 376.63,235.35" fill="#1c1c1c"/>
<polygon points="408.76,233.7 417.37,232.05 417.37,235.35" fill="#1c1c1c"/>
<polygon points="691.12,233.7 682.52,232.05 682.52,235.35" fill="#1c1c1c"/>
<line x1="382.63" y1="236.3" x2="387.84" y2="231.1" stroke="#1c1c1c" stroke-width="0.9"/>
<line x1="394.4" y1="236.3" x2="399.6" y2="231.1" stroke="#1c1c1c" stroke-width="0.9"/>
<line x1="406.16" y1="236.3" x2="411.37" y2="231.1" stroke="#1c1c1c" stroke-width="0.9"/>
<text x="244.06" y="231.2" font-size="9.4" text-anchor="middle" fill="#1c1c1c" font-weight="normal" textLength="50.82" lengthAdjust="spacingAndGlyphs">12x500=6000</text>
<text x="549.94" y="231.2" font-size="9.4" text-anchor="middle" fill="#1c1c1c" font-weight="normal" textLength="50.82" lengthAdjust="spacingAndGlyphs">12x500=6000</text>
<text x="392.6" y="230.6" font-size="8.8" text-anchor="middle" fill="#1c1c1c" font-weight="normal" textLength="12.98" lengthAdjust="spacingAndGlyphs">250</text>
<text x="416.3" y="218.3" font-size="8.8" text-anchor="middle" fill="#1c1c1c" font-weight="normal" textLength="12.98" lengthAdjust="spacingAndGlyphs">250</text>
<line x1="407.2" y1="224" x2="404" y2="233.7" stroke="#1c1c1c" stroke-width="0.8"/>
<line x1="124.7" y1="102.2" x2="124.7" y2="139.6" stroke="#1c1c1c" stroke-width="0.9"/>
<polygon points="124.7,102.2 123.05,110.8 126.35,110.8" fill="#1c1c1c"/>
<polygon points="124.7,139.6 123.05,131 126.35,131" fill="#1c1c1c"/>
<line x1="121.5" y1="139.6" x2="142.88" y2="139.6" stroke="#1c1c1c" stroke-width="0.9"/>
<text x="122.6" y="121" font-size="9.4" text-anchor="middle" fill="#1c1c1c" textLength="13.86" lengthAdjust="spacingAndGlyphs" transform="rotate(-90 122.6 121)">800</text>
<line x1="125.5" y1="111.8" x2="142.88" y2="111.8" stroke="#1c1c1c" stroke-width="0.9"/>
<line x1="158.88" y1="111.8" x2="195.5" y2="111.8" stroke="#1c1c1c" stroke-width="0.9"/>
<polygon points="142.88,111.8 134.28,110.15 134.28,113.45" fill="#1c1c1c"/>
<polygon points="158.88,111.8 167.48,110.15 167.48,113.45" fill="#1c1c1c"/>
<line x1="142.88" y1="111.8" x2="158.88" y2="111.8" stroke="#1c1c1c" stroke-width="0.9"/>
<text x="185.8" y="108.6" font-size="9.4" text-anchor="middle" fill="#1c1c1c" font-weight="normal" textLength="13.86" lengthAdjust="spacingAndGlyphs">340</text>
<line x1="118.6" y1="135.8" x2="118.6" y2="205.8" stroke="#1c1c1c" stroke-width="0.9"/>
<polygon points="118.6,170.6 116.95,162 120.25,162" fill="#1c1c1c"/>
<polygon points="118.6,189.6 116.95,198.2 120.25,198.2" fill="#1c1c1c"/>
<line x1="114.5" y1="170.6" x2="122.4" y2="170.6" stroke="#1c1c1c" stroke-width="0.9"/>
<line x1="114.5" y1="189.6" x2="122.4" y2="189.6" stroke="#1c1c1c" stroke-width="0.9"/>
<text x="115.4" y="145.8" font-size="9.4" text-anchor="middle" fill="#1c1c1c" textLength="13.86" lengthAdjust="spacingAndGlyphs" transform="rotate(-90 115.4 145.8)">400</text>
<line x1="140.4" y1="157" x2="140.4" y2="212.4" stroke="#1c1c1c" stroke-width="0.9"/>
<polygon points="140.4,189.6 138.75,181 142.05,181" fill="#1c1c1c"/>
<polygon points="140.4,195.7 138.75,204.3 142.05,204.3" fill="#1c1c1c"/>
<line x1="136.6" y1="189.6" x2="147.8" y2="189.6" stroke="#1c1c1c" stroke-width="0.9"/>
<line x1="136.6" y1="170.6" x2="147" y2="170.6" stroke="#1c1c1c" stroke-width="0.9"/>
<text x="137" y="164.6" font-size="9.4" text-anchor="middle" fill="#1c1c1c" textLength="13.86" lengthAdjust="spacingAndGlyphs" transform="rotate(-90 137 164.6)">130</text>
<line x1="611.8" y1="71.2" x2="611.8" y2="221.2" stroke="#1c1c1c" stroke-width="0.9"/>
<polygon points="611.8,71.2 610.15,79.8 613.45,79.8" fill="#1c1c1c"/>
<polygon points="611.8,102.2 610.15,93.6 613.45,93.6" fill="#1c1c1c"/>
<polygon points="611.8,102.2 610.15,110.8 613.45,110.8" fill="#1c1c1c"/>
<polygon points="611.8,195.7 610.15,187.1 613.45,187.1" fill="#1c1c1c"/>
<polygon points="611.8,195.7 610.15,201.7 613.45,201.7" fill="#1c1c1c"/>
<polygon points="611.8,221.2 610.15,215.2 613.45,215.2" fill="#1c1c1c"/>
<line x1="606" y1="102.2" x2="617" y2="102.2" stroke="#1c1c1c" stroke-width="0.9"/>
<text x="609.2" y="86.5" font-size="9.4" text-anchor="middle" fill="#1c1c1c" textLength="13.86" lengthAdjust="spacingAndGlyphs" transform="rotate(-90 609.2 86.5)">660</text>
<text x="609.2" y="148.8" font-size="9.4" text-anchor="middle" fill="#1c1c1c" textLength="18.48" lengthAdjust="spacingAndGlyphs" transform="rotate(-90 609.2 148.8)">2000</text>
<text x="609.2" y="207.5" font-size="8.4" text-anchor="middle" fill="#1c1c1c" textLength="12.39" lengthAdjust="spacingAndGlyphs" transform="rotate(-90 609.2 207.5)">542</text>
<line x1="538.18" y1="195.7" x2="613.8" y2="250.4" stroke="#1c1c1c" stroke-width="0.8"/>
<line x1="636" y1="196" x2="613.8" y2="250.4" stroke="#1c1c1c" stroke-width="0.8"/>
<line x1="613.8" y1="250.4" x2="709.5" y2="250.4" stroke="#1c1c1c" stroke-width="0.9"/>
<text x="179.4" y="95.7" font-size="7.8" fill="#22cfe0" font-weight="bold" textLength="15.4" lengthAdjust="spacingAndGlyphs">+700</text>
<line x1="179.4" y1="97.5" x2="198" y2="97.5" stroke="#22cfe0" stroke-width="0.9"/>
<path d="M181.3 97.5L184.55 101.9L187.8 97.5" stroke="#22cfe0" stroke-width="0.9" fill="none"/>
<text x="179.2" y="191.3" font-size="7.2" fill="#22cfe0" font-weight="bold" textLength="14.3" lengthAdjust="spacingAndGlyphs">-1300</text>
<line x1="179.2" y1="192.4" x2="194" y2="192.4" stroke="#22cfe0" stroke-width="0.9"/>
<path d="M180 192.4L182.4 195.7L184.8 192.4" stroke="#22cfe0" stroke-width="0.9" fill="none"/>
<line x1="220.6" y1="82.3" x2="234" y2="82.3" stroke="#22cfe0" stroke-width="0.9"/>
<polygon points="220.6,82.3 227.1,81.1 227.1,83.5" fill="#22cfe0"/>
<text x="231.3" y="79.4" font-size="9.4" text-anchor="middle" fill="#22cfe0" font-weight="normal" textLength="5.6" lengthAdjust="spacingAndGlyphs">A</text>
<line x1="220.5" y1="243.8" x2="233.8" y2="243.8" stroke="#22cfe0" stroke-width="0.9"/>
<polygon points="220.5,243.8 227,242.6 227,245" fill="#22cfe0"/>
<text x="231.4" y="252.8" font-size="9.4" text-anchor="middle" fill="#22cfe0" font-weight="normal" textLength="5.6" lengthAdjust="spacingAndGlyphs">A</text>
<path d="M13.8 374.4L147.5 374.4A7.0 7.0 0 0 1 154.5 381.4L154.5 407.3A7.0 7.0 0 0 0 161.5 414.3L180.9 414.3A7.0 7.0 0 0 0 187.9 407.3L187.9 381.4A7.0 7.0 0 0 1 194.9 374.4L319.13 374.4A7.0 7.0 0 0 1 326.13 381.4L326.13 407.3A7.0 7.0 0 0 0 333.13 414.3L352.53 414.3A7.0 7.0 0 0 0 359.53 407.3L359.53 381.4A7.0 7.0 0 0 1 366.53 374.4L431.97 374.4A7.0 7.0 0 0 1 438.97 381.4L438.97 407.3A7.0 7.0 0 0 0 445.97 414.3L465.37 414.3A7.0 7.0 0 0 0 472.37 407.3L472.37 381.4A7.0 7.0 0 0 1 479.37 374.4L603.6 374.4A7.0 7.0 0 0 1 610.6 381.4L610.6 407.3A7.0 7.0 0 0 0 617.6 414.3L637 414.3A7.0 7.0 0 0 0 644 407.3L644 381.4A7.0 7.0 0 0 1 651 374.4L788.2 374.4" fill="none" stroke="#f3ec45" stroke-width="6.7"/>
<path d="M13.8 374.4L147.5 374.4A7.0 7.0 0 0 1 154.5 381.4L154.5 407.3A7.0 7.0 0 0 0 161.5 414.3L180.9 414.3A7.0 7.0 0 0 0 187.9 407.3L187.9 381.4A7.0 7.0 0 0 1 194.9 374.4L319.13 374.4A7.0 7.0 0 0 1 326.13 381.4L326.13 407.3A7.0 7.0 0 0 0 333.13 414.3L352.53 414.3A7.0 7.0 0 0 0 359.53 407.3L359.53 381.4A7.0 7.0 0 0 1 366.53 374.4L431.97 374.4A7.0 7.0 0 0 1 438.97 381.4L438.97 407.3A7.0 7.0 0 0 0 445.97 414.3L465.37 414.3A7.0 7.0 0 0 0 472.37 407.3L472.37 381.4A7.0 7.0 0 0 1 479.37 374.4L603.6 374.4A7.0 7.0 0 0 1 610.6 381.4L610.6 407.3A7.0 7.0 0 0 0 617.6 414.3L637 414.3A7.0 7.0 0 0 0 644 407.3L644 381.4A7.0 7.0 0 0 1 651 374.4L788.2 374.4" fill="none" stroke="#fff" stroke-width="4.5"/>
<line x1="159.6" y1="384.35" x2="149.4" y2="384.35" stroke="#e8452c" stroke-width="0.95"/>
<line x1="159.6" y1="388.35" x2="149.4" y2="388.35" stroke="#e8452c" stroke-width="0.95"/>
<line x1="159.6" y1="392.35" x2="149.4" y2="392.35" stroke="#e8452c" stroke-width="0.95"/>
<line x1="159.6" y1="396.35" x2="149.4" y2="396.35" stroke="#e8452c" stroke-width="0.95"/>
<line x1="159.6" y1="400.35" x2="149.4" y2="400.35" stroke="#e8452c" stroke-width="0.95"/>
<line x1="159.6" y1="404.35" x2="149.4" y2="404.35" stroke="#e8452c" stroke-width="0.95"/>
<line x1="164" y1="409.2" x2="164" y2="419.4" stroke="#e8452c" stroke-width="0.95"/>
<line x1="178.4" y1="409.2" x2="178.4" y2="419.4" stroke="#e8452c" stroke-width="0.95"/>
<line x1="182.8" y1="404.35" x2="193" y2="404.35" stroke="#e8452c" stroke-width="0.95"/>
<line x1="182.8" y1="400.35" x2="193" y2="400.35" stroke="#e8452c" stroke-width="0.95"/>
<line x1="182.8" y1="396.35" x2="193" y2="396.35" stroke="#e8452c" stroke-width="0.95"/>
<line x1="182.8" y1="392.35" x2="193" y2="392.35" stroke="#e8452c" stroke-width="0.95"/>
<line x1="182.8" y1="388.35" x2="193" y2="388.35" stroke="#e8452c" stroke-width="0.95"/>
<line x1="182.8" y1="384.35" x2="193" y2="384.35" stroke="#e8452c" stroke-width="0.95"/>
<line x1="200.14" y1="369.3" x2="200.14" y2="379.5" stroke="#e8452c" stroke-width="0.95"/>
<line x1="205.31" y1="369.3" x2="205.31" y2="379.5" stroke="#e8452c" stroke-width="0.95"/>
<line x1="210.48" y1="369.3" x2="210.48" y2="379.5" stroke="#e8452c" stroke-width="0.95"/>
<line x1="215.65" y1="369.3" x2="215.65" y2="379.5" stroke="#e8452c" stroke-width="0.95"/>
<line x1="220.82" y1="369.3" x2="220.82" y2="379.5" stroke="#e8452c" stroke-width="0.95"/>
<line x1="225.99" y1="369.3" x2="225.99" y2="379.5" stroke="#e8452c" stroke-width="0.95"/>
<line x1="231.16" y1="369.3" x2="231.16" y2="379.5" stroke="#e8452c" stroke-width="0.95"/>
<line x1="236.33" y1="369.3" x2="236.33" y2="379.5" stroke="#e8452c" stroke-width="0.95"/>
<line x1="241.5" y1="369.3" x2="241.5" y2="379.5" stroke="#e8452c" stroke-width="0.95"/>
<line x1="246.67" y1="369.3" x2="246.67" y2="379.5" stroke="#e8452c" stroke-width="0.95"/>
<line x1="251.84" y1="369.3" x2="251.84" y2="379.5" stroke="#e8452c" stroke-width="0.95"/>
<line x1="257.01" y1="369.3" x2="257.01" y2="379.5" stroke="#e8452c" stroke-width="0.95"/>
<line x1="262.18" y1="369.3" x2="262.18" y2="379.5" stroke="#e8452c" stroke-width="0.95"/>
<line x1="267.35" y1="369.3" x2="267.35" y2="379.5" stroke="#e8452c" stroke-width="0.95"/>
<line x1="272.52" y1="369.3" x2="272.52" y2="379.5" stroke="#e8452c" stroke-width="0.95"/>
<line x1="277.69" y1="369.3" x2="277.69" y2="379.5" stroke="#e8452c" stroke-width="0.95"/>
<line x1="282.86" y1="369.3" x2="282.86" y2="379.5" stroke="#e8452c" stroke-width="0.95"/>
<line x1="288.03" y1="369.3" x2="288.03" y2="379.5" stroke="#e8452c" stroke-width="0.95"/>
<line x1="293.2" y1="369.3" x2="293.2" y2="379.5" stroke="#e8452c" stroke-width="0.95"/>
<line x1="298.37" y1="369.3" x2="298.37" y2="379.5" stroke="#e8452c" stroke-width="0.95"/>
<line x1="303.54" y1="369.3" x2="303.54" y2="379.5" stroke="#e8452c" stroke-width="0.95"/>
<line x1="308.71" y1="369.3" x2="308.71" y2="379.5" stroke="#e8452c" stroke-width="0.95"/>
<line x1="313.88" y1="369.3" x2="313.88" y2="379.5" stroke="#e8452c" stroke-width="0.95"/>
<line x1="331.23" y1="384.35" x2="321.03" y2="384.35" stroke="#e8452c" stroke-width="0.95"/>
<line x1="331.23" y1="388.35" x2="321.03" y2="388.35" stroke="#e8452c" stroke-width="0.95"/>
<line x1="331.23" y1="392.35" x2="321.03" y2="392.35" stroke="#e8452c" stroke-width="0.95"/>
<line x1="331.23" y1="396.35" x2="321.03" y2="396.35" stroke="#e8452c" stroke-width="0.95"/>
<line x1="331.23" y1="400.35" x2="321.03" y2="400.35" stroke="#e8452c" stroke-width="0.95"/>
<line x1="331.23" y1="404.35" x2="321.03" y2="404.35" stroke="#e8452c" stroke-width="0.95"/>
<line x1="335.63" y1="409.2" x2="335.63" y2="419.4" stroke="#e8452c" stroke-width="0.95"/>
<line x1="350.03" y1="409.2" x2="350.03" y2="419.4" stroke="#e8452c" stroke-width="0.95"/>
<line x1="354.43" y1="404.35" x2="364.63" y2="404.35" stroke="#e8452c" stroke-width="0.95"/>
<line x1="354.43" y1="400.35" x2="364.63" y2="400.35" stroke="#e8452c" stroke-width="0.95"/>
<line x1="354.43" y1="396.35" x2="364.63" y2="396.35" stroke="#e8452c" stroke-width="0.95"/>
<line x1="354.43" y1="392.35" x2="364.63" y2="392.35" stroke="#e8452c" stroke-width="0.95"/>
<line x1="354.43" y1="388.35" x2="364.63" y2="388.35" stroke="#e8452c" stroke-width="0.95"/>
<line x1="354.43" y1="384.35" x2="364.63" y2="384.35" stroke="#e8452c" stroke-width="0.95"/>
<line x1="444.07" y1="384.35" x2="433.87" y2="384.35" stroke="#e8452c" stroke-width="0.95"/>
<line x1="444.07" y1="388.35" x2="433.87" y2="388.35" stroke="#e8452c" stroke-width="0.95"/>
<line x1="444.07" y1="392.35" x2="433.87" y2="392.35" stroke="#e8452c" stroke-width="0.95"/>
<line x1="444.07" y1="396.35" x2="433.87" y2="396.35" stroke="#e8452c" stroke-width="0.95"/>
<line x1="444.07" y1="400.35" x2="433.87" y2="400.35" stroke="#e8452c" stroke-width="0.95"/>
<line x1="444.07" y1="404.35" x2="433.87" y2="404.35" stroke="#e8452c" stroke-width="0.95"/>
<line x1="448.47" y1="409.2" x2="448.47" y2="419.4" stroke="#e8452c" stroke-width="0.95"/>
<line x1="462.87" y1="409.2" x2="462.87" y2="419.4" stroke="#e8452c" stroke-width="0.95"/>
<line x1="467.27" y1="404.35" x2="477.47" y2="404.35" stroke="#e8452c" stroke-width="0.95"/>
<line x1="467.27" y1="400.35" x2="477.47" y2="400.35" stroke="#e8452c" stroke-width="0.95"/>
<line x1="467.27" y1="396.35" x2="477.47" y2="396.35" stroke="#e8452c" stroke-width="0.95"/>
<line x1="467.27" y1="392.35" x2="477.47" y2="392.35" stroke="#e8452c" stroke-width="0.95"/>
<line x1="467.27" y1="388.35" x2="477.47" y2="388.35" stroke="#e8452c" stroke-width="0.95"/>
<line x1="467.27" y1="384.35" x2="477.47" y2="384.35" stroke="#e8452c" stroke-width="0.95"/>
<line x1="484.62" y1="369.3" x2="484.62" y2="379.5" stroke="#e8452c" stroke-width="0.95"/>
<line x1="489.79" y1="369.3" x2="489.79" y2="379.5" stroke="#e8452c" stroke-width="0.95"/>
<line x1="494.96" y1="369.3" x2="494.96" y2="379.5" stroke="#e8452c" stroke-width="0.95"/>
<line x1="500.13" y1="369.3" x2="500.13" y2="379.5" stroke="#e8452c" stroke-width="0.95"/>
<line x1="505.3" y1="369.3" x2="505.3" y2="379.5" stroke="#e8452c" stroke-width="0.95"/>
<line x1="510.47" y1="369.3" x2="510.47" y2="379.5" stroke="#e8452c" stroke-width="0.95"/>
<line x1="515.64" y1="369.3" x2="515.64" y2="379.5" stroke="#e8452c" stroke-width="0.95"/>
<line x1="520.81" y1="369.3" x2="520.81" y2="379.5" stroke="#e8452c" stroke-width="0.95"/>
<line x1="525.98" y1="369.3" x2="525.98" y2="379.5" stroke="#e8452c" stroke-width="0.95"/>
<line x1="531.15" y1="369.3" x2="531.15" y2="379.5" stroke="#e8452c" stroke-width="0.95"/>
<line x1="536.32" y1="369.3" x2="536.32" y2="379.5" stroke="#e8452c" stroke-width="0.95"/>
<line x1="541.49" y1="369.3" x2="541.49" y2="379.5" stroke="#e8452c" stroke-width="0.95"/>
<line x1="546.66" y1="369.3" x2="546.66" y2="379.5" stroke="#e8452c" stroke-width="0.95"/>
<line x1="551.83" y1="369.3" x2="551.83" y2="379.5" stroke="#e8452c" stroke-width="0.95"/>
<line x1="557" y1="369.3" x2="557" y2="379.5" stroke="#e8452c" stroke-width="0.95"/>
<line x1="562.17" y1="369.3" x2="562.17" y2="379.5" stroke="#e8452c" stroke-width="0.95"/>
<line x1="567.34" y1="369.3" x2="567.34" y2="379.5" stroke="#e8452c" stroke-width="0.95"/>
<line x1="572.51" y1="369.3" x2="572.51" y2="379.5" stroke="#e8452c" stroke-width="0.95"/>
<line x1="577.68" y1="369.3" x2="577.68" y2="379.5" stroke="#e8452c" stroke-width="0.95"/>
<line x1="582.85" y1="369.3" x2="582.85" y2="379.5" stroke="#e8452c" stroke-width="0.95"/>
<line x1="588.02" y1="369.3" x2="588.02" y2="379.5" stroke="#e8452c" stroke-width="0.95"/>
<line x1="593.19" y1="369.3" x2="593.19" y2="379.5" stroke="#e8452c" stroke-width="0.95"/>
<line x1="598.36" y1="369.3" x2="598.36" y2="379.5" stroke="#e8452c" stroke-width="0.95"/>
<line x1="615.7" y1="384.35" x2="605.5" y2="384.35" stroke="#e8452c" stroke-width="0.95"/>
<line x1="615.7" y1="388.35" x2="605.5" y2="388.35" stroke="#e8452c" stroke-width="0.95"/>
<line x1="615.7" y1="392.35" x2="605.5" y2="392.35" stroke="#e8452c" stroke-width="0.95"/>
<line x1="615.7" y1="396.35" x2="605.5" y2="396.35" stroke="#e8452c" stroke-width="0.95"/>
<line x1="615.7" y1="400.35" x2="605.5" y2="400.35" stroke="#e8452c" stroke-width="0.95"/>
<line x1="615.7" y1="404.35" x2="605.5" y2="404.35" stroke="#e8452c" stroke-width="0.95"/>
<line x1="620.1" y1="409.2" x2="620.1" y2="419.4" stroke="#e8452c" stroke-width="0.95"/>
<line x1="634.5" y1="409.2" x2="634.5" y2="419.4" stroke="#e8452c" stroke-width="0.95"/>
<line x1="638.9" y1="404.35" x2="649.1" y2="404.35" stroke="#e8452c" stroke-width="0.95"/>
<line x1="638.9" y1="400.35" x2="649.1" y2="400.35" stroke="#e8452c" stroke-width="0.95"/>
<line x1="638.9" y1="396.35" x2="649.1" y2="396.35" stroke="#e8452c" stroke-width="0.95"/>
<line x1="638.9" y1="392.35" x2="649.1" y2="392.35" stroke="#e8452c" stroke-width="0.95"/>
<line x1="638.9" y1="388.35" x2="649.1" y2="388.35" stroke="#e8452c" stroke-width="0.95"/>
<line x1="638.9" y1="384.35" x2="649.1" y2="384.35" stroke="#e8452c" stroke-width="0.95"/>
<path d="M13.8 374.4L147.5 374.4A7.0 7.0 0 0 1 154.5 381.4L154.5 407.3A7.0 7.0 0 0 0 161.5 414.3L180.9 414.3A7.0 7.0 0 0 0 187.9 407.3L187.9 381.4A7.0 7.0 0 0 1 194.9 374.4L319.13 374.4A7.0 7.0 0 0 1 326.13 381.4L326.13 407.3A7.0 7.0 0 0 0 333.13 414.3L352.53 414.3A7.0 7.0 0 0 0 359.53 407.3L359.53 381.4A7.0 7.0 0 0 1 366.53 374.4L431.97 374.4A7.0 7.0 0 0 1 438.97 381.4L438.97 407.3A7.0 7.0 0 0 0 445.97 414.3L465.37 414.3A7.0 7.0 0 0 0 472.37 407.3L472.37 381.4A7.0 7.0 0 0 1 479.37 374.4L603.6 374.4A7.0 7.0 0 0 1 610.6 381.4L610.6 407.3A7.0 7.0 0 0 0 617.6 414.3L637 414.3A7.0 7.0 0 0 0 644 407.3L644 381.4A7.0 7.0 0 0 1 651 374.4L788.2 374.4" fill="none" stroke="#d42a35" stroke-width="0.8" stroke-dasharray="4.6 1.4 1 1.4"/>
<line x1="40" y1="369.3" x2="40" y2="379.5" stroke="#e8452c" stroke-width="0.95"/>
<line x1="45.17" y1="369.3" x2="45.17" y2="379.5" stroke="#e8452c" stroke-width="0.95"/>
<line x1="50.34" y1="369.3" x2="50.34" y2="379.5" stroke="#e8452c" stroke-width="0.95"/>
<line x1="55.51" y1="369.3" x2="55.51" y2="379.5" stroke="#e8452c" stroke-width="0.95"/>
<line x1="60.68" y1="369.3" x2="60.68" y2="379.5" stroke="#e8452c" stroke-width="0.95"/>
<line x1="65.85" y1="369.3" x2="65.85" y2="379.5" stroke="#e8452c" stroke-width="0.95"/>
<line x1="71.02" y1="369.3" x2="71.02" y2="379.5" stroke="#e8452c" stroke-width="0.95"/>
<line x1="76.19" y1="369.3" x2="76.19" y2="379.5" stroke="#e8452c" stroke-width="0.95"/>
<line x1="81.36" y1="369.3" x2="81.36" y2="379.5" stroke="#e8452c" stroke-width="0.95"/>
<line x1="86.53" y1="369.3" x2="86.53" y2="379.5" stroke="#e8452c" stroke-width="0.95"/>
<line x1="91.7" y1="369.3" x2="91.7" y2="379.5" stroke="#e8452c" stroke-width="0.95"/>
<line x1="96.87" y1="369.3" x2="96.87" y2="379.5" stroke="#e8452c" stroke-width="0.95"/>
<line x1="102.04" y1="369.3" x2="102.04" y2="379.5" stroke="#e8452c" stroke-width="0.95"/>
<line x1="107.21" y1="369.3" x2="107.21" y2="379.5" stroke="#e8452c" stroke-width="0.95"/>
<line x1="112.38" y1="369.3" x2="112.38" y2="379.5" stroke="#e8452c" stroke-width="0.95"/>
<line x1="117.55" y1="369.3" x2="117.55" y2="379.5" stroke="#e8452c" stroke-width="0.95"/>
<line x1="122.72" y1="369.3" x2="122.72" y2="379.5" stroke="#e8452c" stroke-width="0.95"/>
<line x1="127.89" y1="369.3" x2="127.89" y2="379.5" stroke="#e8452c" stroke-width="0.95"/>
<line x1="133.06" y1="369.3" x2="133.06" y2="379.5" stroke="#e8452c" stroke-width="0.95"/>
<line x1="656.9" y1="369.3" x2="656.9" y2="379.5" stroke="#e8452c" stroke-width="0.95"/>
<line x1="662.07" y1="369.3" x2="662.07" y2="379.5" stroke="#e8452c" stroke-width="0.95"/>
<line x1="667.24" y1="369.3" x2="667.24" y2="379.5" stroke="#e8452c" stroke-width="0.95"/>
<line x1="672.41" y1="369.3" x2="672.41" y2="379.5" stroke="#e8452c" stroke-width="0.95"/>
<line x1="677.58" y1="369.3" x2="677.58" y2="379.5" stroke="#e8452c" stroke-width="0.95"/>
<line x1="682.75" y1="369.3" x2="682.75" y2="379.5" stroke="#e8452c" stroke-width="0.95"/>
<line x1="687.92" y1="369.3" x2="687.92" y2="379.5" stroke="#e8452c" stroke-width="0.95"/>
<line x1="693.09" y1="369.3" x2="693.09" y2="379.5" stroke="#e8452c" stroke-width="0.95"/>
<line x1="698.26" y1="369.3" x2="698.26" y2="379.5" stroke="#e8452c" stroke-width="0.95"/>
<line x1="703.43" y1="369.3" x2="703.43" y2="379.5" stroke="#e8452c" stroke-width="0.95"/>
<line x1="708.6" y1="369.3" x2="708.6" y2="379.5" stroke="#e8452c" stroke-width="0.95"/>
<line x1="713.77" y1="369.3" x2="713.77" y2="379.5" stroke="#e8452c" stroke-width="0.95"/>
<line x1="718.94" y1="369.3" x2="718.94" y2="379.5" stroke="#e8452c" stroke-width="0.95"/>
<line x1="724.11" y1="369.3" x2="724.11" y2="379.5" stroke="#e8452c" stroke-width="0.95"/>
<line x1="729.28" y1="369.3" x2="729.28" y2="379.5" stroke="#e8452c" stroke-width="0.95"/>
<line x1="734.45" y1="369.3" x2="734.45" y2="379.5" stroke="#e8452c" stroke-width="0.95"/>
<line x1="739.62" y1="369.3" x2="739.62" y2="379.5" stroke="#e8452c" stroke-width="0.95"/>
<line x1="744.79" y1="369.3" x2="744.79" y2="379.5" stroke="#e8452c" stroke-width="0.95"/>
<line x1="749.96" y1="369.3" x2="749.96" y2="379.5" stroke="#e8452c" stroke-width="0.95"/>
<line x1="755.13" y1="369.3" x2="755.13" y2="379.5" stroke="#e8452c" stroke-width="0.95"/>
<line x1="760.3" y1="369.3" x2="760.3" y2="379.5" stroke="#e8452c" stroke-width="0.95"/>
<line x1="9.5" y1="374.4" x2="13.8" y2="374.4" stroke="#e3262a" stroke-width="0.8"/>
<line x1="788.2" y1="374.4" x2="792" y2="374.4" stroke="#e3262a" stroke-width="0.8"/>
<line x1="787.6" y1="370.8" x2="787.6" y2="378" stroke="#f3ec45" stroke-width="1.8"/>
<line x1="787.6" y1="369.8" x2="787.6" y2="371" stroke="#35c43a" stroke-width="1.6"/>
<line x1="787.6" y1="377.8" x2="787.6" y2="379" stroke="#c8762a" stroke-width="1.6"/>
<path d="M67.07 433.7H74.47M70.77 430V437.4" stroke="#e3262a" stroke-width="0.9" fill="none"/>
<path d="M67.07 452.4H74.47M70.77 448.7V456.1" stroke="#e3262a" stroke-width="0.9" fill="none"/>
<path d="M90.53 433.7H97.93M94.23 430V437.4" stroke="#e3262a" stroke-width="0.9" fill="none"/>
<path d="M90.53 452.4H97.93M94.23 448.7V456.1" stroke="#e3262a" stroke-width="0.9" fill="none"/>
<path d="M113.99 433.7H121.39M117.69 430V437.4" stroke="#e3262a" stroke-width="0.9" fill="none"/>
<path d="M113.99 452.4H121.39M117.69 448.7V456.1" stroke="#e3262a" stroke-width="0.9" fill="none"/>
<path d="M137.46 433.7H144.86M141.16 430V437.4" stroke="#e3262a" stroke-width="0.9" fill="none"/>
<path d="M137.46 452.4H144.86M141.16 448.7V456.1" stroke="#e3262a" stroke-width="0.9" fill="none"/>
<path d="M160.92 433.7H168.32M164.62 430V437.4" stroke="#e3262a" stroke-width="0.9" fill="none"/>
<path d="M160.92 452.4H168.32M164.62 448.7V456.1" stroke="#e3262a" stroke-width="0.9" fill="none"/>
<path d="M184.38 433.7H191.78M188.08 430V437.4" stroke="#e3262a" stroke-width="0.9" fill="none"/>
<path d="M184.38 452.4H191.78M188.08 448.7V456.1" stroke="#e3262a" stroke-width="0.9" fill="none"/>
<path d="M207.85 433.7H215.25M211.55 430V437.4" stroke="#e3262a" stroke-width="0.9" fill="none"/>
<path d="M207.85 452.4H215.25M211.55 448.7V456.1" stroke="#e3262a" stroke-width="0.9" fill="none"/>
<path d="M231.31 433.7H238.71M235.01 430V437.4" stroke="#e3262a" stroke-width="0.9" fill="none"/>
<path d="M231.31 452.4H238.71M235.01 448.7V456.1" stroke="#e3262a" stroke-width="0.9" fill="none"/>
<path d="M254.77 433.7H262.17M258.47 430V437.4" stroke="#e3262a" stroke-width="0.9" fill="none"/>
<path d="M254.77 452.4H262.17M258.47 448.7V456.1" stroke="#e3262a" stroke-width="0.9" fill="none"/>
<path d="M278.24 433.7H285.64M281.94 430V437.4" stroke="#e3262a" stroke-width="0.9" fill="none"/>
<path d="M278.24 452.4H285.64M281.94 448.7V456.1" stroke="#e3262a" stroke-width="0.9" fill="none"/>
<path d="M301.7 433.7H309.1M305.4 430V437.4" stroke="#e3262a" stroke-width="0.9" fill="none"/>
<path d="M301.7 452.4H309.1M305.4 448.7V456.1" stroke="#e3262a" stroke-width="0.9" fill="none"/>
<path d="M325.16 433.7H332.56M328.86 430V437.4" stroke="#e3262a" stroke-width="0.9" fill="none"/>
<path d="M325.16 452.4H332.56M328.86 448.7V456.1" stroke="#e3262a" stroke-width="0.9" fill="none"/>
<path d="M348.62 433.7H356.02M352.32 430V437.4" stroke="#e3262a" stroke-width="0.9" fill="none"/>
<path d="M348.62 452.4H356.02M352.32 448.7V456.1" stroke="#e3262a" stroke-width="0.9" fill="none"/>
<path d="M372.09 433.7H379.49M375.79 430V437.4" stroke="#e3262a" stroke-width="0.9" fill="none"/>
<path d="M372.09 452.4H379.49M375.79 448.7V456.1" stroke="#e3262a" stroke-width="0.9" fill="none"/>
<path d="M395.55 433.7H402.95M399.25 430V437.4" stroke="#e3262a" stroke-width="0.9" fill="none"/>
<path d="M395.55 452.4H402.95M399.25 448.7V456.1" stroke="#e3262a" stroke-width="0.9" fill="none"/>
<path d="M419.01 433.7H426.41M422.71 430V437.4" stroke="#e3262a" stroke-width="0.9" fill="none"/>
<path d="M419.01 452.4H426.41M422.71 448.7V456.1" stroke="#e3262a" stroke-width="0.9" fill="none"/>
<path d="M442.48 433.7H449.88M446.18 430V437.4" stroke="#e3262a" stroke-width="0.9" fill="none"/>
<path d="M442.48 452.4H449.88M446.18 448.7V456.1" stroke="#e3262a" stroke-width="0.9" fill="none"/>
<path d="M465.94 433.7H473.34M469.64 430V437.4" stroke="#e3262a" stroke-width="0.9" fill="none"/>
<path d="M465.94 452.4H473.34M469.64 448.7V456.1" stroke="#e3262a" stroke-width="0.9" fill="none"/>
<path d="M489.4 433.7H496.8M493.1 430V437.4" stroke="#e3262a" stroke-width="0.9" fill="none"/>
<path d="M489.4 452.4H496.8M493.1 448.7V456.1" stroke="#e3262a" stroke-width="0.9" fill="none"/>
<path d="M512.86 433.7H520.26M516.56 430V437.4" stroke="#e3262a" stroke-width="0.9" fill="none"/>
<path d="M512.86 452.4H520.26M516.56 448.7V456.1" stroke="#e3262a" stroke-width="0.9" fill="none"/>
<path d="M536.33 433.7H543.73M540.03 430V437.4" stroke="#e3262a" stroke-width="0.9" fill="none"/>
<path d="M536.33 452.4H543.73M540.03 448.7V456.1" stroke="#e3262a" stroke-width="0.9" fill="none"/>
<path d="M559.79 433.7H567.19M563.49 430V437.4" stroke="#e3262a" stroke-width="0.9" fill="none"/>
<path d="M559.79 452.4H567.19M563.49 448.7V456.1" stroke="#e3262a" stroke-width="0.9" fill="none"/>
<path d="M583.25 433.7H590.65M586.95 430V437.4" stroke="#e3262a" stroke-width="0.9" fill="none"/>
<path d="M583.25 452.4H590.65M586.95 448.7V456.1" stroke="#e3262a" stroke-width="0.9" fill="none"/>
<path d="M606.72 433.7H614.12M610.42 430V437.4" stroke="#e3262a" stroke-width="0.9" fill="none"/>
<path d="M606.72 452.4H614.12M610.42 448.7V456.1" stroke="#e3262a" stroke-width="0.9" fill="none"/>
<path d="M630.18 433.7H637.58M633.88 430V437.4" stroke="#e3262a" stroke-width="0.9" fill="none"/>
<path d="M630.18 452.4H637.58M633.88 448.7V456.1" stroke="#e3262a" stroke-width="0.9" fill="none"/>
<path d="M653.64 433.7H661.04M657.34 430V437.4" stroke="#e3262a" stroke-width="0.9" fill="none"/>
<path d="M653.64 452.4H661.04M657.34 448.7V456.1" stroke="#e3262a" stroke-width="0.9" fill="none"/>
<path d="M677.11 433.7H684.51M680.81 430V437.4" stroke="#e3262a" stroke-width="0.9" fill="none"/>
<path d="M677.11 452.4H684.51M680.81 448.7V456.1" stroke="#e3262a" stroke-width="0.9" fill="none"/>
<path d="M700.57 433.7H707.97M704.27 430V437.4" stroke="#e3262a" stroke-width="0.9" fill="none"/>
<path d="M700.57 452.4H707.97M704.27 448.7V456.1" stroke="#e3262a" stroke-width="0.9" fill="none"/>
<path d="M724.03 433.7H731.43M727.73 430V437.4" stroke="#e3262a" stroke-width="0.9" fill="none"/>
<path d="M724.03 452.4H731.43M727.73 448.7V456.1" stroke="#e3262a" stroke-width="0.9" fill="none"/>
<clipPath id="hba"><rect x="31" y="459.6" width="736" height="5.6"/></clipPath>
<clipPath id="hbb"><rect x="31" y="465.2" width="736" height="19.8"/></clipPath>
<clipPath id="hbc"><rect x="31" y="471.8" width="736" height="13.2"/></clipPath>
<path d="M-9 485L16.4 459.6M-5.9 485L19.5 459.6M-0.25 485L25.15 459.6M2.85 485L28.25 459.6M8.5 485L33.9 459.6M11.6 485L37 459.6M17.25 485L42.65 459.6M20.35 485L45.75 459.6M26 485L51.4 459.6M29.1 485L54.5 459.6M34.75 485L60.15 459.6M37.85 485L63.25 459.6M43.5 485L68.9 459.6M46.6 485L72 459.6M52.25 485L77.65 459.6M55.35 485L80.75 459.6M61 485L86.4 459.6M64.1 485L89.5 459.6M69.75 485L95.15 459.6M72.85 485L98.25 459.6M78.5 485L103.9 459.6M81.6 485L107 459.6M87.25 485L112.65 459.6M90.35 485L115.75 459.6M96 485L121.4 459.6M99.1 485L124.5 459.6M104.75 485L130.15 459.6M107.85 485L133.25 459.6M113.5 485L138.9 459.6M116.6 485L142 459.6M122.25 485L147.65 459.6M125.35 485L150.75 459.6M131 485L156.4 459.6M134.1 485L159.5 459.6M139.75 485L165.15 459.6M142.85 485L168.25 459.6M148.5 485L173.9 459.6M151.6 485L177 459.6M157.25 485L182.65 459.6M160.35 485L185.75 459.6M166 485L191.4 459.6M169.1 485L194.5 459.6M174.75 485L200.15 459.6M177.85 485L203.25 459.6M183.5 485L208.9 459.6M186.6 485L212 459.6M192.25 485L217.65 459.6M195.35 485L220.75 459.6M201 485L226.4 459.6M204.1 485L229.5 459.6M209.75 485L235.15 459.6M212.85 485L238.25 459.6M218.5 485L243.9 459.6M221.6 485L247 459.6M227.25 485L252.65 459.6M230.35 485L255.75 459.6M236 485L261.4 459.6M239.1 485L264.5 459.6M244.75 485L270.15 459.6M247.85 485L273.25 459.6M253.5 485L278.9 459.6M256.6 485L282 459.6M262.25 485L287.65 459.6M265.35 485L290.75 459.6M271 485L296.4 459.6M274.1 485L299.5 459.6M279.75 485L305.15 459.6M282.85 485L308.25 459.6M288.5 485L313.9 459.6M291.6 485L317 459.6M297.25 485L322.65 459.6M300.35 485L325.75 459.6M306 485L331.4 459.6M309.1 485L334.5 459.6M314.75 485L340.15 459.6M317.85 485L343.25 459.6M323.5 485L348.9 459.6M326.6 485L352 459.6M332.25 485L357.65 459.6M335.35 485L360.75 459.6M341 485L366.4 459.6M344.1 485L369.5 459.6M349.75 485L375.15 459.6M352.85 485L378.25 459.6M358.5 485L383.9 459.6M361.6 485L387 459.6M367.25 485L392.65 459.6M370.35 485L395.75 459.6M376 485L401.4 459.6M379.1 485L404.5 459.6M384.75 485L410.15 459.6M387.85 485L413.25 459.6M393.5 485L418.9 459.6M396.6 485L422 459.6M402.25 485L427.65 459.6M405.35 485L430.75 459.6M411 485L436.4 459.6M414.1 485L439.5 459.6M419.75 485L445.15 459.6M422.85 485L448.25 459.6M428.5 485L453.9 459.6M431.6 485L457 459.6M437.25 485L462.65 459.6M440.35 485L465.75 459.6M446 485L471.4 459.6M449.1 485L474.5 459.6M454.75 485L480.15 459.6M457.85 485L483.25 459.6M463.5 485L488.9 459.6M466.6 485L492 459.6M472.25 485L497.65 459.6M475.35 485L500.75 459.6M481 485L506.4 459.6M484.1 485L509.5 459.6M489.75 485L515.15 459.6M492.85 485L518.25 459.6M498.5 485L523.9 459.6M501.6 485L527 459.6M507.25 485L532.65 459.6M510.35 485L535.75 459.6M516 485L541.4 459.6M519.1 485L544.5 459.6M524.75 485L550.15 459.6M527.85 485L553.25 459.6M533.5 485L558.9 459.6M536.6 485L562 459.6M542.25 485L567.65 459.6M545.35 485L570.75 459.6M551 485L576.4 459.6M554.1 485L579.5 459.6M559.75 485L585.15 459.6M562.85 485L588.25 459.6M568.5 485L593.9 459.6M571.6 485L597 459.6M577.25 485L602.65 459.6M580.35 485L605.75 459.6M586 485L611.4 459.6M589.1 485L614.5 459.6M594.75 485L620.15 459.6M597.85 485L623.25 459.6M603.5 485L628.9 459.6M606.6 485L632 459.6M612.25 485L637.65 459.6M615.35 485L640.75 459.6M621 485L646.4 459.6M624.1 485L649.5 459.6M629.75 485L655.15 459.6M632.85 485L658.25 459.6M638.5 485L663.9 459.6M641.6 485L667 459.6M647.25 485L672.65 459.6M650.35 485L675.75 459.6M656 485L681.4 459.6M659.1 485L684.5 459.6M664.75 485L690.15 459.6M667.85 485L693.25 459.6M673.5 485L698.9 459.6M676.6 485L702 459.6M682.25 485L707.65 459.6M685.35 485L710.75 459.6M691 485L716.4 459.6M694.1 485L719.5 459.6M699.75 485L725.15 459.6M702.85 485L728.25 459.6M708.5 485L733.9 459.6M711.6 485L737 459.6M717.25 485L742.65 459.6M720.35 485L745.75 459.6M726 485L751.4 459.6M729.1 485L754.5 459.6M734.75 485L760.15 459.6M737.85 485L763.25 459.6M743.5 485L768.9 459.6M746.6 485L772 459.6M752.25 485L777.65 459.6M755.35 485L780.75 459.6M761 485L786.4 459.6M764.1 485L789.5 459.6M769.75 485L795.15 459.6M772.85 485L798.25 459.6" stroke="#1c1c1c" stroke-width="0.85" fill="none" clip-path="url(#hba)"/>
<path d="M-9 485L16.4 459.6M-0.25 485L25.15 459.6M8.5 485L33.9 459.6M17.25 485L42.65 459.6M26 485L51.4 459.6M34.75 485L60.15 459.6M43.5 485L68.9 459.6M52.25 485L77.65 459.6M61 485L86.4 459.6M69.75 485L95.15 459.6M78.5 485L103.9 459.6M87.25 485L112.65 459.6M96 485L121.4 459.6M104.75 485L130.15 459.6M113.5 485L138.9 459.6M122.25 485L147.65 459.6M131 485L156.4 459.6M139.75 485L165.15 459.6M148.5 485L173.9 459.6M157.25 485L182.65 459.6M166 485L191.4 459.6M174.75 485L200.15 459.6M183.5 485L208.9 459.6M192.25 485L217.65 459.6M201 485L226.4 459.6M209.75 485L235.15 459.6M218.5 485L243.9 459.6M227.25 485L252.65 459.6M236 485L261.4 459.6M244.75 485L270.15 459.6M253.5 485L278.9 459.6M262.25 485L287.65 459.6M271 485L296.4 459.6M279.75 485L305.15 459.6M288.5 485L313.9 459.6M297.25 485L322.65 459.6M306 485L331.4 459.6M314.75 485L340.15 459.6M323.5 485L348.9 459.6M332.25 485L357.65 459.6M341 485L366.4 459.6M349.75 485L375.15 459.6M358.5 485L383.9 459.6M367.25 485L392.65 459.6M376 485L401.4 459.6M384.75 485L410.15 459.6M393.5 485L418.9 459.6M402.25 485L427.65 459.6M411 485L436.4 459.6M419.75 485L445.15 459.6M428.5 485L453.9 459.6M437.25 485L462.65 459.6M446 485L471.4 459.6M454.75 485L480.15 459.6M463.5 485L488.9 459.6M472.25 485L497.65 459.6M481 485L506.4 459.6M489.75 485L515.15 459.6M498.5 485L523.9 459.6M507.25 485L532.65 459.6M516 485L541.4 459.6M524.75 485L550.15 459.6M533.5 485L558.9 459.6M542.25 485L567.65 459.6M551 485L576.4 459.6M559.75 485L585.15 459.6M568.5 485L593.9 459.6M577.25 485L602.65 459.6M586 485L611.4 459.6M594.75 485L620.15 459.6M603.5 485L628.9 459.6M612.25 485L637.65 459.6M621 485L646.4 459.6M629.75 485L655.15 459.6M638.5 485L663.9 459.6M647.25 485L672.65 459.6M656 485L681.4 459.6M664.75 485L690.15 459.6M673.5 485L698.9 459.6M682.25 485L707.65 459.6M691 485L716.4 459.6M699.75 485L725.15 459.6M708.5 485L733.9 459.6M717.25 485L742.65 459.6M726 485L751.4 459.6M734.75 485L760.15 459.6M743.5 485L768.9 459.6M752.25 485L777.65 459.6M761 485L786.4 459.6M769.75 485L795.15 459.6" stroke="#1c1c1c" stroke-width="0.95" fill="none" clip-path="url(#hbb)"/>
<path d="M-4.6 485L20.8 459.6M0.45 488.7L29.55 459.6M5.5 492.4L38.3 459.6M10.55 496.1L47.05 459.6M28.6 486.8L55.8 459.6M33.65 490.5L64.55 459.6M38.7 494.2L73.3 459.6M43.75 497.9L82.05 459.6M61.8 488.6L90.8 459.6M66.85 492.3L99.55 459.6M71.9 496L108.3 459.6M89.95 486.7L117.05 459.6M95 490.4L125.8 459.6M100.05 494.1L134.55 459.6M105.1 497.8L143.3 459.6M123.15 488.5L152.05 459.6M128.2 492.2L160.8 459.6M133.25 495.9L169.55 459.6M151.3 486.6L178.3 459.6M156.35 490.3L187.05 459.6M161.4 494L195.8 459.6M166.45 497.7L204.55 459.6M184.5 488.4L213.3 459.6M189.55 492.1L222.05 459.6M194.6 495.8L230.8 459.6M212.65 486.5L239.55 459.6M217.7 490.2L248.3 459.6M222.75 493.9L257.05 459.6M227.8 497.6L265.8 459.6M245.85 488.3L274.55 459.6M250.9 492L283.3 459.6M255.95 495.7L292.05 459.6M274 486.4L300.8 459.6M279.05 490.1L309.55 459.6M284.1 493.8L318.3 459.6M289.15 497.5L327.05 459.6M307.2 488.2L335.8 459.6M312.25 491.9L344.55 459.6M317.3 495.6L353.3 459.6M335.35 486.3L362.05 459.6M340.4 490L370.8 459.6M345.45 493.7L379.55 459.6M350.5 497.4L388.3 459.6M368.55 488.1L397.05 459.6M373.6 491.8L405.8 459.6M378.65 495.5L414.55 459.6M396.7 486.2L423.3 459.6M401.75 489.9L432.05 459.6M406.8 493.6L440.8 459.6M411.85 497.3L449.55 459.6M429.9 488L458.3 459.6M434.95 491.7L467.05 459.6M440 495.4L475.8 459.6M458.05 486.1L484.55 459.6M463.1 489.8L493.3 459.6M468.15 493.5L502.05 459.6M473.2 497.2L510.8 459.6M491.25 487.9L519.55 459.6M496.3 491.6L528.3 459.6M501.35 495.3L537.05 459.6M519.4 486L545.8 459.6M524.45 489.7L554.55 459.6M529.5 493.4L563.3 459.6M534.55 497.1L572.05 459.6M552.6 487.8L580.8 459.6M557.65 491.5L589.55 459.6M562.7 495.2L598.3 459.6M580.75 485.9L607.05 459.6M585.8 489.6L615.8 459.6M590.85 493.3L624.55 459.6M595.9 497L633.3 459.6M613.95 487.7L642.05 459.6M619 491.4L650.8 459.6M624.05 495.1L659.55 459.6M642.1 485.8L668.3 459.6M647.15 489.5L677.05 459.6M652.2 493.2L685.8 459.6M657.25 496.9L694.55 459.6M675.3 487.6L703.3 459.6M680.35 491.3L712.05 459.6M685.4 495L720.8 459.6M703.45 485.7L729.55 459.6M708.5 489.4L738.3 459.6M713.55 493.1L747.05 459.6M718.6 496.8L755.8 459.6M736.65 487.5L764.55 459.6M741.7 491.2L773.3 459.6M746.75 494.9L782.05 459.6M764.8 485.6L790.8 459.6M769.85 489.3L799.55 459.6" stroke="#1c1c1c" stroke-width="1.15" fill="none" stroke-dasharray="8 7" clip-path="url(#hbc)"/>
<line x1="31" y1="465.2" x2="767" y2="465.2" stroke="#1c1c1c" stroke-width="0.9"/>
<line x1="31" y1="471.8" x2="767" y2="471.8" stroke="#555" stroke-width="0.8"/>
<line x1="31" y1="478.4" x2="767" y2="478.4" stroke="#555" stroke-width="0.8"/>
<line x1="31" y1="459.6" x2="767" y2="459.6" stroke="#333" stroke-width="1.4"/>
<line x1="19.5" y1="292.5" x2="19.5" y2="485" stroke="#1c1c1c" stroke-width="0.9"/>
<line x1="31" y1="292.5" x2="31" y2="485" stroke="#1c1c1c" stroke-width="0.9"/>
<line x1="767" y1="292.5" x2="767" y2="485" stroke="#1c1c1c" stroke-width="0.9"/>
<line x1="778.8" y1="292.5" x2="778.8" y2="485" stroke="#1c1c1c" stroke-width="0.9"/>
<polyline points="15.5,292.5 24.2,292.5 25.4,290.6 27.6,294.6 28.8,292.5 34.2,292.5" fill="none" stroke="#1c1c1c" stroke-width="0.9"/>
<polyline points="763.6,292.5 769.6,292.5 770.8,290.6 773,294.6 774.2,292.5 782.6,292.5" fill="none" stroke="#1c1c1c" stroke-width="0.9"/>
<line x1="18.8" y1="485" x2="779.6" y2="485" stroke="#1c1c1c" stroke-width="1.6"/>
<line x1="31" y1="299.5" x2="767" y2="299.5" stroke="#1c1c1c" stroke-width="0.9"/>
<line x1="31" y1="314.25" x2="767" y2="314.25" stroke="#1c1c1c" stroke-width="0.9"/>
<line x1="31" y1="325.2" x2="767" y2="325.2" stroke="#1c1c1c" stroke-width="0.9"/>
<line x1="31" y1="335.3" x2="767" y2="335.3" stroke="#1c1c1c" stroke-width="0.9"/>
<line x1="93.63" y1="320.8" x2="93.63" y2="366.1" stroke="#1c1c1c" stroke-width="0.9"/>
<line x1="704.37" y1="320.8" x2="704.37" y2="366.1" stroke="#1c1c1c" stroke-width="0.9"/>
<polyline points="93.63,366.1 163.2,366.1 163.2,403.4 179.2,403.4 179.2,366.1 334.83,366.1 334.83,403.4 350.83,403.4 350.83,366.1 447.67,366.1 447.67,403.4 463.67,403.4 463.67,366.1 619.3,366.1 619.3,403.4 635.3,403.4 635.3,366.1 704.37,366.1" fill="none" stroke="#1c1c1c" stroke-width="0.9"/>
<line x1="171.2" y1="348.5" x2="171.2" y2="408" stroke="#1c1c1c" stroke-width="0.85" stroke-dasharray="9 1.5 1.5 1.5"/>
<line x1="342.83" y1="348.5" x2="342.83" y2="408" stroke="#1c1c1c" stroke-width="0.85" stroke-dasharray="9 1.5 1.5 1.5"/>
<line x1="455.67" y1="348.5" x2="455.67" y2="408" stroke="#1c1c1c" stroke-width="0.85" stroke-dasharray="9 1.5 1.5 1.5"/>
<line x1="627.3" y1="348.5" x2="627.3" y2="408" stroke="#1c1c1c" stroke-width="0.85" stroke-dasharray="9 1.5 1.5 1.5"/>
<line x1="55.8" y1="335.3" x2="55.8" y2="459.6" stroke="#1c1c1c" stroke-width="0.7" stroke-dasharray="2 1.2"/>
<line x1="742.6" y1="335.3" x2="742.6" y2="459.6" stroke="#1c1c1c" stroke-width="0.7" stroke-dasharray="2 1.2"/>
<line x1="100.67" y1="366.1" x2="100.67" y2="502.3" stroke="#1c1c1c" stroke-width="1.6"/>
<line x1="171.2" y1="403.4" x2="171.2" y2="502.3" stroke="#1c1c1c" stroke-width="1.6"/>
<line x1="265.24" y1="366.1" x2="265.24" y2="502.3" stroke="#1c1c1c" stroke-width="1.6"/>
<line x1="335.77" y1="403.4" x2="335.77" y2="502.3" stroke="#1c1c1c" stroke-width="1.6"/>
<line x1="462.73" y1="403.4" x2="462.73" y2="502.3" stroke="#1c1c1c" stroke-width="1.6"/>
<line x1="533.26" y1="366.1" x2="533.26" y2="502.3" stroke="#1c1c1c" stroke-width="1.6"/>
<line x1="627.3" y1="403.4" x2="627.3" y2="502.3" stroke="#1c1c1c" stroke-width="1.6"/>
<line x1="697.83" y1="366.1" x2="697.83" y2="502.3" stroke="#1c1c1c" stroke-width="1.6"/>
<line x1="399.25" y1="292.6" x2="399.25" y2="526.5" stroke="#1c1c1c" stroke-width="0.85" stroke-dasharray="16 1.5 1.5 1.5"/>
<polygon points="31,314.25 39.6,312.6 39.6,315.9" fill="#1c1c1c"/>
<polygon points="399.25,314.25 390.65,312.6 390.65,315.9" fill="#1c1c1c"/>
<polygon points="399.25,314.25 407.85,312.6 407.85,315.9" fill="#1c1c1c"/>
<polygon points="767,314.25 758.4,312.6 758.4,315.9" fill="#1c1c1c"/>
<text x="215.12" y="311.45" font-size="9.4" text-anchor="middle" fill="#1c1c1c" font-weight="normal" textLength="18.48" lengthAdjust="spacingAndGlyphs">7832</text>
<text x="583.12" y="311.45" font-size="9.4" text-anchor="middle" fill="#1c1c1c" font-weight="normal" textLength="18.48" lengthAdjust="spacingAndGlyphs">7832</text>
<polygon points="31,325.2 39.6,323.55 39.6,326.85" fill="#1c1c1c"/>
<polygon points="93.63,325.2 85.03,323.55 85.03,326.85" fill="#1c1c1c"/>
<polygon points="399.25,325.2 390.65,323.55 390.65,326.85" fill="#1c1c1c"/>
<polygon points="399.25,325.2 407.85,323.55 407.85,326.85" fill="#1c1c1c"/>
<polygon points="704.37,325.2 712.97,323.55 712.97,326.85" fill="#1c1c1c"/>
<polygon points="767,325.2 758.4,323.55 758.4,326.85" fill="#1c1c1c"/>
<polygon points="704.37,325.2 695.77,323.55 695.77,326.85" fill="#1c1c1c"/>
<text x="62.32" y="322.4" font-size="9.4" text-anchor="middle" fill="#1c1c1c" font-weight="normal" textLength="18.48" lengthAdjust="spacingAndGlyphs">1332</text>
<text x="215" y="322.4" font-size="9.4" text-anchor="middle" fill="#1c1c1c" font-weight="normal" textLength="18.48" lengthAdjust="spacingAndGlyphs">7832</text>
<text x="551.8" y="322.4" font-size="9.4" text-anchor="middle" fill="#1c1c1c" font-weight="normal" textLength="18.48" lengthAdjust="spacingAndGlyphs">6500</text>
<text x="735.68" y="322.4" font-size="9.4" text-anchor="middle" fill="#1c1c1c" font-weight="normal" textLength="18.48" lengthAdjust="spacingAndGlyphs">1332</text>
<line x1="171.2" y1="353.25" x2="627.3" y2="353.25" stroke="#1c1c1c" stroke-width="0.9"/>
<polygon points="171.2,353.25 179.8,351.6 179.8,354.9" fill="#1c1c1c"/>
<polygon points="342.83,353.25 334.23,351.6 334.23,354.9" fill="#1c1c1c"/>
<polygon points="342.83,353.25 351.43,351.6 351.43,354.9" fill="#1c1c1c"/>
<polygon points="399.25,353.25 390.65,351.6 390.65,354.9" fill="#1c1c1c"/>
<polygon points="399.25,353.25 407.85,351.6 407.85,354.9" fill="#1c1c1c"/>
<polygon points="455.67,353.25 447.07,351.6 447.07,354.9" fill="#1c1c1c"/>
<polygon points="455.67,353.25 464.27,351.6 464.27,354.9" fill="#1c1c1c"/>
<polygon points="627.3,353.25 618.7,351.6 618.7,354.9" fill="#1c1c1c"/>
<text x="257.01" y="350.65" font-size="9.4" text-anchor="middle" fill="#1c1c1c" font-weight="normal" textLength="18.48" lengthAdjust="spacingAndGlyphs">3650</text>
<text x="371.04" y="350.65" font-size="9.4" text-anchor="middle" fill="#1c1c1c" font-weight="normal" textLength="18.48" lengthAdjust="spacingAndGlyphs">1200</text>
<text x="427.46" y="350.65" font-size="9.4" text-anchor="middle" fill="#1c1c1c" font-weight="normal" textLength="18.48" lengthAdjust="spacingAndGlyphs">1200</text>
<text x="541.49" y="350.65" font-size="9.4" text-anchor="middle" fill="#1c1c1c" font-weight="normal" textLength="18.48" lengthAdjust="spacingAndGlyphs">3650</text>
<line x1="100.67" y1="424.8" x2="697.83" y2="424.8" stroke="#1c1c1c" stroke-width="0.9"/>
<polygon points="100.67,424.8 109.27,423.15 109.27,426.45" fill="#1c1c1c"/>
<polygon points="171.2,424.8 162.6,423.15 162.6,426.45" fill="#1c1c1c"/>
<polygon points="171.2,424.8 179.8,423.15 179.8,426.45" fill="#1c1c1c"/>
<polygon points="265.24,424.8 256.64,423.15 256.64,426.45" fill="#1c1c1c"/>
<polygon points="265.24,424.8 273.84,423.15 273.84,426.45" fill="#1c1c1c"/>
<polygon points="335.77,424.8 327.17,423.15 327.17,426.45" fill="#1c1c1c"/>
<polygon points="335.77,424.8 344.37,423.15 344.37,426.45" fill="#1c1c1c"/>
<polygon points="399.25,424.8 390.65,423.15 390.65,426.45" fill="#1c1c1c"/>
<polygon points="399.25,424.8 407.85,423.15 407.85,426.45" fill="#1c1c1c"/>
<polygon points="462.73,424.8 454.13,423.15 454.13,426.45" fill="#1c1c1c"/>
<polygon points="462.73,424.8 471.33,423.15 471.33,426.45" fill="#1c1c1c"/>
<polygon points="533.26,424.8 524.66,423.15 524.66,426.45" fill="#1c1c1c"/>
<polygon points="533.26,424.8 541.86,423.15 541.86,426.45" fill="#1c1c1c"/>
<polygon points="627.3,424.8 618.7,423.15 618.7,426.45" fill="#1c1c1c"/>
<polygon points="627.3,424.8 635.9,423.15 635.9,426.45" fill="#1c1c1c"/>
<polygon points="697.83,424.8 689.23,423.15 689.23,426.45" fill="#1c1c1c"/>
<text x="135.94" y="422.3" font-size="9.4" text-anchor="middle" fill="#1c1c1c" font-weight="normal" textLength="18.48" lengthAdjust="spacingAndGlyphs">1500</text>
<text x="218.22" y="422.3" font-size="9.4" text-anchor="middle" fill="#1c1c1c" font-weight="normal" textLength="18.48" lengthAdjust="spacingAndGlyphs">2000</text>
<text x="300.51" y="422.3" font-size="9.4" text-anchor="middle" fill="#1c1c1c" font-weight="normal" textLength="18.48" lengthAdjust="spacingAndGlyphs">1500</text>
<text x="367.51" y="422.3" font-size="9.4" text-anchor="middle" fill="#1c1c1c" font-weight="normal" textLength="18.48" lengthAdjust="spacingAndGlyphs">1350</text>
<text x="430.99" y="422.3" font-size="9.4" text-anchor="middle" fill="#1c1c1c" font-weight="normal" textLength="18.48" lengthAdjust="spacingAndGlyphs">1350</text>
<text x="497.99" y="422.3" font-size="9.4" text-anchor="middle" fill="#1c1c1c" font-weight="normal" textLength="18.48" lengthAdjust="spacingAndGlyphs">1500</text>
<text x="580.28" y="422.3" font-size="9.4" text-anchor="middle" fill="#1c1c1c" font-weight="normal" textLength="18.48" lengthAdjust="spacingAndGlyphs">2000</text>
<text x="662.56" y="422.3" font-size="9.4" text-anchor="middle" fill="#1c1c1c" font-weight="normal" textLength="18.48" lengthAdjust="spacingAndGlyphs">1500</text>
<line x1="100.67" y1="498.4" x2="697.83" y2="498.4" stroke="#1c1c1c" stroke-width="0.9"/>
<polygon points="100.67,498.4 109.27,496.75 109.27,500.05" fill="#1c1c1c"/>
<polygon points="171.2,498.4 162.6,496.75 162.6,500.05" fill="#1c1c1c"/>
<polygon points="171.2,498.4 179.8,496.75 179.8,500.05" fill="#1c1c1c"/>
<polygon points="265.24,498.4 256.64,496.75 256.64,500.05" fill="#1c1c1c"/>
<polygon points="265.24,498.4 273.84,496.75 273.84,500.05" fill="#1c1c1c"/>
<polygon points="335.77,498.4 327.17,496.75 327.17,500.05" fill="#1c1c1c"/>
<polygon points="335.77,498.4 344.37,496.75 344.37,500.05" fill="#1c1c1c"/>
<polygon points="399.25,498.4 390.65,496.75 390.65,500.05" fill="#1c1c1c"/>
<polygon points="399.25,498.4 407.85,496.75 407.85,500.05" fill="#1c1c1c"/>
<polygon points="462.73,498.4 454.13,496.75 454.13,500.05" fill="#1c1c1c"/>
<polygon points="462.73,498.4 471.33,496.75 471.33,500.05" fill="#1c1c1c"/>
<polygon points="533.26,498.4 524.66,496.75 524.66,500.05" fill="#1c1c1c"/>
<polygon points="533.26,498.4 541.86,496.75 541.86,500.05" fill="#1c1c1c"/>
<polygon points="627.3,498.4 618.7,496.75 618.7,500.05" fill="#1c1c1c"/>
<polygon points="627.3,498.4 635.9,496.75 635.9,500.05" fill="#1c1c1c"/>
<polygon points="697.83,498.4 689.23,496.75 689.23,500.05" fill="#1c1c1c"/>
<text x="135.94" y="495.9" font-size="9.4" text-anchor="middle" fill="#1c1c1c" font-weight="normal" textLength="18.48" lengthAdjust="spacingAndGlyphs">1500</text>
<text x="218.22" y="495.9" font-size="9.4" text-anchor="middle" fill="#1c1c1c" font-weight="normal" textLength="18.48" lengthAdjust="spacingAndGlyphs">2000</text>
<text x="300.51" y="495.9" font-size="9.4" text-anchor="middle" fill="#1c1c1c" font-weight="normal" textLength="18.48" lengthAdjust="spacingAndGlyphs">1500</text>
<text x="367.51" y="495.9" font-size="9.4" text-anchor="middle" fill="#1c1c1c" font-weight="normal" textLength="18.48" lengthAdjust="spacingAndGlyphs">1350</text>
<text x="430.99" y="495.9" font-size="9.4" text-anchor="middle" fill="#1c1c1c" font-weight="normal" textLength="18.48" lengthAdjust="spacingAndGlyphs">1350</text>
<text x="497.99" y="495.9" font-size="9.4" text-anchor="middle" fill="#1c1c1c" font-weight="normal" textLength="18.48" lengthAdjust="spacingAndGlyphs">1500</text>
<text x="580.28" y="495.9" font-size="9.4" text-anchor="middle" fill="#1c1c1c" font-weight="normal" textLength="18.48" lengthAdjust="spacingAndGlyphs">2000</text>
<text x="662.56" y="495.9" font-size="9.4" text-anchor="middle" fill="#1c1c1c" font-weight="normal" textLength="18.48" lengthAdjust="spacingAndGlyphs">1500</text>
<line x1="70.77" y1="515.2" x2="727.73" y2="515.2" stroke="#1c1c1c" stroke-width="0.9"/>
<line x1="70.77" y1="452.4" x2="70.77" y2="520.5" stroke="#1c1c1c" stroke-width="0.9"/>
<line x1="727.73" y1="452.4" x2="727.73" y2="520.5" stroke="#1c1c1c" stroke-width="0.9"/>
<polygon points="70.77,515.2 79.37,513.55 79.37,516.85" fill="#1c1c1c"/>
<polygon points="399.25,515.2 390.65,513.55 390.65,516.85" fill="#1c1c1c"/>
<polygon points="399.25,515.2 407.85,513.55 407.85,516.85" fill="#1c1c1c"/>
<polygon points="727.73,515.2 719.13,513.55 719.13,516.85" fill="#1c1c1c"/>
<text x="235.01" y="512.6" font-size="9.4" text-anchor="middle" fill="#1c1c1c" font-weight="normal" textLength="50.82" lengthAdjust="spacingAndGlyphs">14x500=7000</text>
<text x="563.49" y="512.6" font-size="9.4" text-anchor="middle" fill="#1c1c1c" font-weight="normal" textLength="50.82" lengthAdjust="spacingAndGlyphs">14x500=7000</text>
<line x1="82.4" y1="335.3" x2="82.4" y2="459.6" stroke="#1c1c1c" stroke-width="0.9"/>
<polygon points="82.4,335.3 80.75,343.9 84.05,343.9" fill="#1c1c1c"/>
<polygon points="82.4,459.6 80.75,451 84.05,451" fill="#1c1c1c"/>
<text x="79.8" y="397" font-size="9.4" text-anchor="middle" fill="#1c1c1c" textLength="18.48" lengthAdjust="spacingAndGlyphs" transform="rotate(-90 79.8 397)">2660</text>
<line x1="64.3" y1="398.3" x2="64.3" y2="462" stroke="#1c1c1c" stroke-width="0.9"/>
<polygon points="64.3,433.7 62.65,425.1 65.95,425.1" fill="#1c1c1c"/>
<polygon points="64.3,452.4 62.65,461 65.95,461" fill="#1c1c1c"/>
<line x1="60" y1="433.7" x2="67.2" y2="433.7" stroke="#1c1c1c" stroke-width="0.9"/>
<line x1="60" y1="452.4" x2="67.2" y2="452.4" stroke="#1c1c1c" stroke-width="0.9"/>
<text x="61.4" y="407.7" font-size="9.4" text-anchor="middle" fill="#1c1c1c" textLength="13.86" lengthAdjust="spacingAndGlyphs" transform="rotate(-90 61.4 407.7)">400</text>
<line x1="111.3" y1="419.3" x2="111.3" y2="468.7" stroke="#1c1c1c" stroke-width="0.9"/>
<polygon points="111.3,452.4 109.65,443.8 112.95,443.8" fill="#1c1c1c"/>
<polygon points="111.3,459.6 109.65,468.2 112.95,468.2" fill="#1c1c1c"/>
<line x1="106.7" y1="452.4" x2="114" y2="452.4" stroke="#1c1c1c" stroke-width="0.9"/>
<text x="108.4" y="427" font-size="9.4" text-anchor="middle" fill="#1c1c1c" textLength="13.86" lengthAdjust="spacingAndGlyphs" transform="rotate(-90 108.4 427)">130</text>
<line x1="143.8" y1="366.1" x2="143.8" y2="403.4" stroke="#1c1c1c" stroke-width="0.9"/>
<polygon points="143.8,366.1 142.15,374.7 145.45,374.7" fill="#1c1c1c"/>
<polygon points="143.8,403.4 142.15,394.8 145.45,394.8" fill="#1c1c1c"/>
<line x1="139.5" y1="403.4" x2="163.2" y2="403.4" stroke="#1c1c1c" stroke-width="0.9"/>
<text x="140.6" y="384.6" font-size="9.4" text-anchor="middle" fill="#1c1c1c" textLength="13.86" lengthAdjust="spacingAndGlyphs" transform="rotate(-90 140.6 384.6)">800</text>
<line x1="147.5" y1="380.9" x2="215.5" y2="380.9" stroke="#1c1c1c" stroke-width="0.9"/>
<polygon points="163.2,380.9 154.6,379.25 154.6,382.55" fill="#1c1c1c"/>
<polygon points="179.2,380.9 187.8,379.25 187.8,382.55" fill="#1c1c1c"/>
<text x="204.8" y="378.2" font-size="9.4" text-anchor="middle" fill="#1c1c1c" font-weight="normal" textLength="13.86" lengthAdjust="spacingAndGlyphs">340</text>
<line x1="570.5" y1="335.3" x2="570.5" y2="459.6" stroke="#1c1c1c" stroke-width="0.9"/>
<polygon points="570.5,335.3 568.85,343.9 572.15,343.9" fill="#1c1c1c"/>
<polygon points="570.5,366.1 568.85,357.5 572.15,357.5" fill="#1c1c1c"/>
<polygon points="570.5,366.1 568.85,374.7 572.15,374.7" fill="#1c1c1c"/>
<polygon points="570.5,459.6 568.85,451 572.15,451" fill="#1c1c1c"/>
<text x="567.6" y="350.5" font-size="9.4" text-anchor="middle" fill="#1c1c1c" textLength="13.86" lengthAdjust="spacingAndGlyphs" transform="rotate(-90 567.6 350.5)">660</text>
<text x="567.6" y="412" font-size="9.4" text-anchor="middle" fill="#1c1c1c" textLength="18.48" lengthAdjust="spacingAndGlyphs" transform="rotate(-90 567.6 412)">2000</text>
<line x1="627.3" y1="459.6" x2="669.7" y2="531.2" stroke="#1c1c1c" stroke-width="0.8"/>
<line x1="696" y1="461.7" x2="669.7" y2="531.2" stroke="#1c1c1c" stroke-width="0.8"/>
<line x1="669.7" y1="531.2" x2="766.4" y2="531.2" stroke="#1c1c1c" stroke-width="0.9"/>
<text x="217.4" y="359.7" font-size="7.8" fill="#22cfe0" font-weight="bold" textLength="15.2" lengthAdjust="spacingAndGlyphs">+700</text>
<line x1="217.4" y1="361.8" x2="236" y2="361.8" stroke="#22cfe0" stroke-width="0.9"/>
<path d="M219 361.8L222.3 365.6L225.6 361.8" stroke="#22cfe0" stroke-width="0.9" fill="none"/>
<text x="217" y="454.8" font-size="6.4" fill="#22cfe0" font-weight="bold" textLength="14.4" lengthAdjust="spacingAndGlyphs">-1300</text>
<line x1="217" y1="456" x2="231.6" y2="456" stroke="#22cfe0" stroke-width="0.9"/>
<path d="M218 456L220.5 460L223 456" stroke="#22cfe0" stroke-width="0.9" fill="none"/>
<line x1="270" y1="345.8" x2="283.2" y2="345.8" stroke="#22cfe0" stroke-width="0.9"/>
<polygon points="270,345.8 276.5,344.6 276.5,347" fill="#22cfe0"/>
<text x="280" y="343.6" font-size="9.4" text-anchor="middle" fill="#22cfe0" font-weight="normal" textLength="5.6" lengthAdjust="spacingAndGlyphs">B</text>
<line x1="270.4" y1="503.4" x2="283.6" y2="503.4" stroke="#22cfe0" stroke-width="0.9"/>
<polygon points="270.4,503.4 276.9,502.2 276.9,504.6" fill="#22cfe0"/>
<text x="280.3" y="513.2" font-size="9.4" text-anchor="middle" fill="#22cfe0" font-weight="normal" textLength="5.6" lengthAdjust="spacingAndGlyphs">B</text>
<rect x="516.2" y="0" width="1.6" height="1.7" fill="#555"/>
<text x="380.3" y="19.3" font-size="14" font-weight="bold" fill="#1c1c1c" font-family="'Liberation Sans', 'Noto Sans CJK SC', sans-serif" textLength="34.9" lengthAdjust="spacingAndGlyphs">出料端墙</text>
<line x1="379.8" y1="22.2" x2="415.6" y2="22.2" stroke="#333" stroke-width="1.3"/>
<text x="380.1" y="281.11" font-size="13.8" font-weight="bold" fill="#1c1c1c" font-family="'Liberation Sans', 'Noto Sans CJK SC', sans-serif" textLength="35.3" lengthAdjust="spacingAndGlyphs">装料端墙</text>
<line x1="379.6" y1="283.9" x2="415.8" y2="283.9" stroke="#333" stroke-width="1.3"/>
<text x="398.4" y="84.5" font-size="14" fill="#1c1c1c" font-family="'Liberation Sans', 'Noto Sans CJK SC', sans-serif" textLength="9" lengthAdjust="spacingAndGlyphs">加</text>
<text x="398.4" y="104.3" font-size="14" fill="#1c1c1c" font-family="'Liberation Sans', 'Noto Sans CJK SC', sans-serif" textLength="9" lengthAdjust="spacingAndGlyphs">热</text>
<text x="398.4" y="125.5" font-size="14" fill="#1c1c1c" font-family="'Liberation Sans', 'Noto Sans CJK SC', sans-serif" textLength="9" lengthAdjust="spacingAndGlyphs">炉</text>
<text x="398.4" y="147.9" font-size="14" fill="#1c1c1c" font-family="'Liberation Sans', 'Noto Sans CJK SC', sans-serif" textLength="9" lengthAdjust="spacingAndGlyphs">中</text>
<text x="398.4" y="168.9" font-size="14" fill="#1c1c1c" font-family="'Liberation Sans', 'Noto Sans CJK SC', sans-serif" textLength="9" lengthAdjust="spacingAndGlyphs">心</text>
<text x="398.4" y="191.1" font-size="14" fill="#1c1c1c" font-family="'Liberation Sans', 'Noto Sans CJK SC', sans-serif" textLength="9" lengthAdjust="spacingAndGlyphs">线</text>
<text x="400.7" y="356.3" font-size="14" fill="#1c1c1c" font-family="'Liberation Sans', 'Noto Sans CJK SC', sans-serif" textLength="9" lengthAdjust="spacingAndGlyphs">加</text>
<text x="400.7" y="378.1" font-size="14" fill="#1c1c1c" font-family="'Liberation Sans', 'Noto Sans CJK SC', sans-serif" textLength="9" lengthAdjust="spacingAndGlyphs">热</text>
<text x="400.7" y="399.5" font-size="14" fill="#1c1c1c" font-family="'Liberation Sans', 'Noto Sans CJK SC', sans-serif" textLength="9" lengthAdjust="spacingAndGlyphs">炉</text>
<text x="400.7" y="421.7" font-size="14" fill="#1c1c1c" font-family="'Liberation Sans', 'Noto Sans CJK SC', sans-serif" textLength="9" lengthAdjust="spacingAndGlyphs">中</text>
<text x="400.7" y="442.7" font-size="14" fill="#1c1c1c" font-family="'Liberation Sans', 'Noto Sans CJK SC', sans-serif" textLength="9" lengthAdjust="spacingAndGlyphs">心</text>
<text x="400.7" y="464.5" font-size="14" fill="#1c1c1c" font-family="'Liberation Sans', 'Noto Sans CJK SC', sans-serif" textLength="9" lengthAdjust="spacingAndGlyphs">线</text>
<text x="621" y="248.12" font-size="5.6" font-weight="bold" fill="#1c1c1c" font-family="'Liberation Sans', 'Noto Sans CJK SC', sans-serif" textLength="21.3" lengthAdjust="spacingAndGlyphs">膨胀缝留法</text>
<text x="642.3" y="248.12" font-size="5.6" font-weight="bold" fill="#1c1c1c" font-family="'Liberation Sans', 'Noto Sans CJK SC', sans-serif" textLength="4.1" lengthAdjust="spacingAndGlyphs">，</text>
<text x="646.4" y="248.12" font-size="5.6" font-weight="bold" fill="#1c1c1c" font-family="'Liberation Sans', 'Noto Sans CJK SC', sans-serif" textLength="8.9" lengthAdjust="spacingAndGlyphs">内填</text>
<text x="655.6" y="248.3" font-size="6.2" text-anchor="start" fill="#1c1c1c" font-weight="normal">6mm</text>
<text x="668.4" y="248.12" font-size="5.6" font-weight="bold" fill="#1c1c1c" font-family="'Liberation Sans', 'Noto Sans CJK SC', sans-serif" textLength="4.1" lengthAdjust="spacingAndGlyphs">厚</text>
<text x="672.8" y="248.3" font-size="6.2" text-anchor="start" fill="#1c1c1c" font-weight="normal">PVC</text>
<text x="684.2" y="248.12" font-size="5.6" font-weight="bold" fill="#1c1c1c" font-family="'Liberation Sans', 'Noto Sans CJK SC', sans-serif" textLength="21.3" lengthAdjust="spacingAndGlyphs">波纹膨胀板</text>
<text x="677.5" y="529.12" font-size="5.6" font-weight="bold" fill="#1c1c1c" font-family="'Liberation Sans', 'Noto Sans CJK SC', sans-serif" textLength="21.3" lengthAdjust="spacingAndGlyphs">膨胀缝留法</text>
<text x="698.8" y="529.12" font-size="5.6" font-weight="bold" fill="#1c1c1c" font-family="'Liberation Sans', 'Noto Sans CJK SC', sans-serif" textLength="4.1" lengthAdjust="spacingAndGlyphs">，</text>
<text x="702.9" y="529.12" font-size="5.6" font-weight="bold" fill="#1c1c1c" font-family="'Liberation Sans', 'Noto Sans CJK SC', sans-serif" textLength="8.9" lengthAdjust="spacingAndGlyphs">内填</text>
<text x="712.1" y="529.3" font-size="6.2" text-anchor="start" fill="#1c1c1c" font-weight="normal">6mm</text>
<text x="724.9" y="529.12" font-size="5.6" font-weight="bold" fill="#1c1c1c" font-family="'Liberation Sans', 'Noto Sans CJK SC', sans-serif" textLength="4.1" lengthAdjust="spacingAndGlyphs">厚</text>
<text x="729.3" y="529.3" font-size="6.2" text-anchor="start" fill="#1c1c1c" font-weight="normal">PVC</text>
<text x="740.7" y="529.12" font-size="5.6" font-weight="bold" fill="#1c1c1c" font-family="'Liberation Sans', 'Noto Sans CJK SC', sans-serif" textLength="21.3" lengthAdjust="spacingAndGlyphs">波纹膨胀板</text>
</g>
</svg>
</body></html>
